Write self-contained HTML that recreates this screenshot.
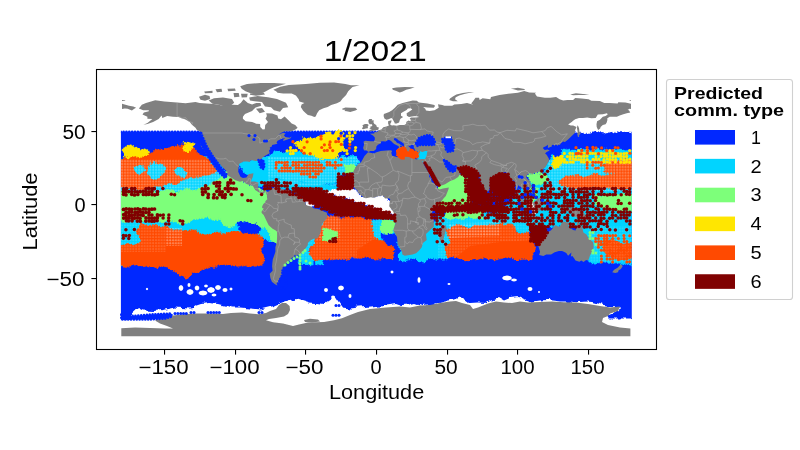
<!DOCTYPE html>
<html><head><meta charset="utf-8"><title>1/2021</title>
<style>
html,body{margin:0;padding:0;background:#fff;}
body{width:800px;height:450px;overflow:hidden;font-family:"Liberation Sans",sans-serif;}
svg{display:block}
</style></head><body>
<svg width="800" height="450" viewBox="0 0 800 450">
<rect width="800" height="450" fill="#fff"/>
<defs><clipPath id="ax"><rect x="97" y="70" width="559" height="279"/></clipPath></defs>
<g clip-path="url(#ax)">
<defs><pattern id="gr" x="121.955" y="131.500" width="2.8283" height="2.9320" patternUnits="userSpaceOnUse"><g fill="#fff" fill-opacity="0.95"><circle cx="0" cy="0" r="0.55"/><circle cx="2.8283" cy="0" r="0.55"/><circle cx="0" cy="2.9320" r="0.55"/><circle cx="2.8283" cy="2.9320" r="0.55"/></g><g stroke="#fff" stroke-opacity="0.24" stroke-width="0.7"><path d="M0,0H2.8283M0,0V2.9320"/></g></pattern><pattern id="gw" x="121.955" y="131.500" width="2.8283" height="2.9320" patternUnits="userSpaceOnUse"><g fill="#fff" fill-opacity="0.95"><circle cx="0" cy="0" r="0.42"/><circle cx="2.8283" cy="0" r="0.42"/><circle cx="0" cy="2.9320" r="0.42"/><circle cx="2.8283" cy="2.9320" r="0.42"/></g><g stroke="#fff" stroke-opacity="0.06" stroke-width="0.7"><path d="M0,0H2.8283M0,0V2.9320"/></g></pattern><filter id="rag" filterUnits="userSpaceOnUse" x="100" y="110" width="560" height="240"><feTurbulence type="fractalNoise" baseFrequency="0.11" numOctaves="2" seed="7" result="n"/><feDisplacementMap in="SourceGraphic" in2="n" scale="7" xChannelSelector="R" yChannelSelector="G"/></filter></defs>
<clipPath id="dc"><rect x="120.9" y="129" width="510.9" height="215"/></clipPath><g clip-path="url(#dc)">
<polygon points="115.0,131.8 638.0,131.8 638.0,319.0 115.0,319.0" fill="#0028ff" stroke="#0028ff" stroke-width="2.6" stroke-linecap="round" stroke-linejoin="round" stroke-dasharray="0.01 2.85"/>
<g filter="url(#rag)">
<polygon points="115.0,158.0 215.0,158.0 224.0,170.0 222.0,178.0 212.0,187.0 199.0,190.0 160.0,193.0 115.0,193.0" fill="#00d4ff" stroke="#00d4ff" stroke-width="2.6" stroke-linecap="round" stroke-linejoin="round" stroke-dasharray="0.01 2.85"/>
<polygon points="177.0,222.0 189.0,220.0 199.0,217.0 211.0,216.0 219.0,218.0 223.0,222.0 229.0,226.0 235.0,228.0 241.0,230.0 241.0,234.0 227.0,235.0 211.0,235.0 195.0,234.0 185.0,232.0 178.0,228.0" fill="#00d4ff" stroke="#00d4ff" stroke-width="2.6" stroke-linecap="round" stroke-linejoin="round" stroke-dasharray="0.01 2.85"/>
<polygon points="115.0,218.0 141.0,220.0 143.0,230.0 139.0,238.0 142.0,244.0 133.0,247.0 115.0,248.0" fill="#00d4ff" stroke="#00d4ff" stroke-width="2.6" stroke-linecap="round" stroke-linejoin="round" stroke-dasharray="0.01 2.85"/>
<polygon points="237.0,229.0 247.0,225.0 255.0,225.0 263.0,228.0 272.0,230.0 272.0,240.0 263.0,238.0 257.0,235.0 249.0,234.0 241.0,234.0" fill="#00d4ff" stroke="#00d4ff" stroke-width="2.6" stroke-linecap="round" stroke-linejoin="round" stroke-dasharray="0.01 2.85"/>
<polygon points="115.0,258.0 125.0,258.0 125.0,265.0 115.0,265.0" fill="#00d4ff" stroke="#00d4ff" stroke-width="2.6" stroke-linecap="round" stroke-linejoin="round" stroke-dasharray="0.01 2.85"/>
<polygon points="139.0,218.0 180.0,221.0 186.0,232.0 160.0,230.0 139.0,228.0" fill="#00d4ff" stroke="#00d4ff" stroke-width="2.6" stroke-linecap="round" stroke-linejoin="round" stroke-dasharray="0.01 2.85"/>
<polygon points="225.0,221.0 255.0,221.0 264.0,228.0 241.0,233.0 229.0,228.0" fill="#00d4ff" stroke="#00d4ff" stroke-width="2.6" stroke-linecap="round" stroke-linejoin="round" stroke-dasharray="0.01 2.85"/>
<polygon points="240.0,163.0 246.0,160.0 256.0,160.0 262.0,158.0 272.0,160.0 276.0,166.0 272.0,172.0 266.0,178.0 258.0,178.0 250.0,176.0 244.0,172.0" fill="#00d4ff" stroke="#00d4ff" stroke-width="2.6" stroke-linecap="round" stroke-linejoin="round" stroke-dasharray="0.01 2.85"/>
<polygon points="250.0,176.0 258.0,174.0 266.0,176.0 270.0,181.0 262.0,185.0 252.0,182.0" fill="#00d4ff" stroke="#00d4ff" stroke-width="2.6" stroke-linecap="round" stroke-linejoin="round" stroke-dasharray="0.01 2.85"/>
<polygon points="262.0,160.0 268.0,155.0 278.0,153.0 290.0,152.0 302.0,153.0 310.0,155.0 322.0,157.0 338.0,157.0 346.0,156.0 356.0,157.0 360.0,160.0 356.0,165.0 350.0,168.0 344.0,174.0 338.0,178.0 336.0,182.0 326.0,184.0 318.0,185.0 310.0,184.0 302.0,181.0 294.0,182.0 286.0,180.0 278.0,178.0 268.0,178.0 260.0,177.0 254.0,174.0 256.0,168.0 262.0,165.0" fill="#00d4ff" stroke="#00d4ff" stroke-width="2.6" stroke-linecap="round" stroke-linejoin="round" stroke-dasharray="0.01 2.85"/>
<polygon points="262.0,178.0 300.0,182.0 326.0,186.0 336.0,184.0 336.0,192.0 320.0,192.0 296.0,190.0 270.0,186.0" fill="#00d4ff" stroke="#00d4ff" stroke-width="2.6" stroke-linecap="round" stroke-linejoin="round" stroke-dasharray="0.01 2.85"/>
<polygon points="320.0,214.0 327.0,216.0 322.0,228.0 314.0,240.0 308.0,252.0 304.0,260.0 298.0,263.0 302.0,250.0 310.0,236.0 318.0,224.0" fill="#00d4ff" stroke="#00d4ff" stroke-width="2.6" stroke-linecap="round" stroke-linejoin="round" stroke-dasharray="0.01 2.85"/>
<polygon points="370.0,220.0 396.0,218.0 404.0,230.0 406.0,244.0 408.0,258.0 400.0,260.0 400.0,248.0 396.0,242.0 390.0,244.0 382.0,240.0 374.0,238.0 370.0,232.0 372.0,226.0" fill="#00d4ff" stroke="#00d4ff" stroke-width="2.6" stroke-linecap="round" stroke-linejoin="round" stroke-dasharray="0.01 2.85"/>
<polygon points="302.0,253.0 310.0,252.0 313.0,258.0 311.0,264.0 304.0,264.0 301.0,259.0" fill="#00d4ff" stroke="#00d4ff" stroke-width="2.6" stroke-linecap="round" stroke-linejoin="round" stroke-dasharray="0.01 2.85"/>
<polygon points="315.5,260.0 322.0,259.0 322.0,264.0 316.0,264.0" fill="#00d4ff" stroke="#00d4ff" stroke-width="2.6" stroke-linecap="round" stroke-linejoin="round" stroke-dasharray="0.01 2.85"/>
<polygon points="400.0,252.0 416.0,246.0 420.0,232.0 438.0,222.0 448.0,228.0 450.0,240.0 446.0,252.0 448.0,259.0 424.0,260.0 404.0,260.0" fill="#00d4ff" stroke="#00d4ff" stroke-width="2.6" stroke-linecap="round" stroke-linejoin="round" stroke-dasharray="0.01 2.85"/>
<polygon points="438.0,216.0 470.0,214.0 500.0,212.0 512.0,200.0 520.0,190.0 530.0,184.0 548.0,176.0 548.0,226.0 536.0,228.0 528.0,234.0 520.0,231.0 505.0,229.0 480.0,228.0 460.0,226.0 448.0,230.0 438.0,224.0" fill="#00d4ff" stroke="#00d4ff" stroke-width="2.6" stroke-linecap="round" stroke-linejoin="round" stroke-dasharray="0.01 2.85"/>
<polygon points="638.0,150.0 556.0,150.0 548.0,162.0 544.0,174.0 544.0,226.0 580.0,226.0 586.0,236.0 586.0,252.0 590.0,262.0 638.0,263.0" fill="#00d4ff" stroke="#00d4ff" stroke-width="2.6" stroke-linecap="round" stroke-linejoin="round" stroke-dasharray="0.01 2.85"/>
<polygon points="418.0,150.0 428.0,150.0 428.0,160.0 418.0,160.0" fill="#00d4ff" stroke="#00d4ff" stroke-width="2.6" stroke-linecap="round" stroke-linejoin="round" stroke-dasharray="0.01 2.85"/>
<polygon points="115.0,159.0 135.0,157.0 148.0,155.0 152.0,152.0 161.0,150.0 171.0,148.0 181.0,146.0 185.0,145.0 190.0,147.0 195.0,150.0 199.0,155.0 205.0,159.0 210.0,162.0 214.0,166.0 216.0,170.0 215.0,173.0 209.0,174.0 201.0,175.0 195.0,179.0 189.0,177.4 181.0,180.0 175.0,183.0 167.0,182.0 161.0,185.0 149.0,189.0 135.0,188.0 115.0,187.0" fill="#ff4a00" stroke="#ff4a00" stroke-width="2.6" stroke-linecap="round" stroke-linejoin="round" stroke-dasharray="0.01 2.85"/>
<polygon points="115.0,246.0 128.0,244.0 135.0,246.0 140.0,240.0 138.0,232.0 141.0,224.0 150.0,225.0 161.0,227.0 175.0,230.0 189.0,232.0 205.0,234.0 219.0,234.0 231.0,233.0 243.0,232.0 251.0,233.0 259.0,235.0 262.0,239.0 263.0,245.0 261.0,251.0 263.0,257.0 262.0,264.0 260.0,264.0 250.0,265.4 230.0,265.0 214.0,265.4 206.0,267.0 204.0,270.0 198.0,271.4 192.0,273.0 188.0,276.6 179.0,274.6 174.0,271.0 170.0,267.0 156.0,266.6 140.0,265.0 125.0,265.4 115.0,264.0" fill="#ff4a00" stroke="#ff4a00" stroke-width="2.6" stroke-linecap="round" stroke-linejoin="round" stroke-dasharray="0.01 2.85"/>
<polygon points="326.0,216.0 346.0,218.0 370.0,219.0 372.0,226.0 370.0,232.0 374.0,238.0 382.0,241.0 389.0,245.0 393.0,251.0 391.0,258.0 324.0,259.0 314.0,260.0 310.0,254.0 313.0,244.0 319.0,232.0 324.0,222.0" fill="#ff4a00" stroke="#ff4a00" stroke-width="2.6" stroke-linecap="round" stroke-linejoin="round" stroke-dasharray="0.01 2.85"/>
<polygon points="448.0,230.0 454.0,226.0 462.0,227.0 470.0,228.0 480.0,226.0 490.0,225.0 502.0,224.0 510.0,226.0 516.0,232.0 528.0,234.0 533.0,240.0 534.0,250.0 532.0,258.0 448.0,258.0 446.0,250.0 450.0,240.0" fill="#ff4a00" stroke="#ff4a00" stroke-width="2.6" stroke-linecap="round" stroke-linejoin="round" stroke-dasharray="0.01 2.85"/>
<polygon points="604.0,164.0 612.0,161.5 638.0,161.0 638.0,172.0 612.0,174.0 606.0,171.0" fill="#ff4a00" stroke="#ff4a00" stroke-width="2.6" stroke-linecap="round" stroke-linejoin="round" stroke-dasharray="0.01 2.85"/>
<polygon points="560.0,183.0 566.0,178.0 580.0,176.0 596.0,175.0 612.0,176.0 638.0,174.0 638.0,186.0 620.0,188.0 600.0,187.0 580.0,188.0 566.0,187.0" fill="#ff4a00" stroke="#ff4a00" stroke-width="2.6" stroke-linecap="round" stroke-linejoin="round" stroke-dasharray="0.01 2.85"/>
<polygon points="616.0,171.0 638.0,170.0 638.0,177.0 614.0,177.0" fill="#ff4a00" stroke="#ff4a00" stroke-width="2.6" stroke-linecap="round" stroke-linejoin="round" stroke-dasharray="0.01 2.85"/>
<polygon points="606.0,243.0 614.0,241.0 624.0,244.0 638.0,243.0 638.0,258.0 616.0,259.0 606.0,254.0 602.0,248.0" fill="#ff4a00" stroke="#ff4a00" stroke-width="2.6" stroke-linecap="round" stroke-linejoin="round" stroke-dasharray="0.01 2.85"/>
<polygon points="398.0,149.0 410.0,149.0 418.0,152.0 418.0,158.0 408.0,160.0 398.0,158.0" fill="#ff4a00" stroke="#ff4a00" stroke-width="2.6" stroke-linecap="round" stroke-linejoin="round" stroke-dasharray="0.01 2.85"/>
<polygon points="135.0,167.0 141.0,165.0 144.0,169.0 141.0,173.0 136.0,172.0" fill="#00d4ff" stroke="#00d4ff" stroke-width="2.6" stroke-linecap="round" stroke-linejoin="round" stroke-dasharray="0.01 2.85"/>
<polygon points="149.0,166.0 155.0,163.0 162.0,165.0 164.0,172.0 160.0,178.0 153.0,179.0 149.0,174.0" fill="#00d4ff" stroke="#00d4ff" stroke-width="2.6" stroke-linecap="round" stroke-linejoin="round" stroke-dasharray="0.01 2.85"/>
<polygon points="175.0,169.0 182.0,167.0 186.0,172.0 182.0,177.0 176.0,175.0" fill="#00d4ff" stroke="#00d4ff" stroke-width="2.6" stroke-linecap="round" stroke-linejoin="round" stroke-dasharray="0.01 2.85"/>
</g>
<path d="M115.0,187.0 L115.0,192.0 L173.0,192.0 L199.0,190.0 L212.0,187.0 L222.0,178.0 L222.0,170.0 L206.0,159.5 L115.0,159.5 L115.0,187.0Z M338.0,178.0 L344.0,174.0 L350.0,168.0 L356.0,165.0 L360.0,160.0 L356.0,157.0 L338.0,157.0 L322.0,157.0 L268.0,157.0 L268.0,178.0 L278.0,178.0 L286.0,180.0 L289.6,180.9 L268.1,178.6 L268.0,178.5 L268.0,184.0 L270.0,186.0 L326.0,186.0 L318.8,184.9 L326.0,184.0 L336.0,182.0 L338.0,178.0Z M300.0,182.0 L296.7,181.7 L302.0,181.0 L307.9,183.2 L300.0,182.0Z M336.0,184.0 L326.0,186.0 L336.0,186.0 L336.0,184.0Z M548.0,162.0 L548.0,192.0 L638.0,192.0 L638.0,186.0 L638.0,177.0 L638.0,174.0 L638.0,172.0 L638.0,170.0 L638.0,161.0 L638.0,159.0 L550.0,159.0 L548.0,162.0Z M327.0,216.1 L327.0,216.0 L320.0,214.0 L318.0,224.0 L310.0,236.0 L307.7,240.0 L314.0,240.0 L318.0,234.0 L315.0,240.0 L340.0,240.0 L340.0,217.4 L327.0,216.1Z M448.0,224.0 L448.0,238.0 L500.0,236.0 L500.0,222.0 L448.0,224.0Z M470.0,228.0 L462.0,227.0 L458.4,226.5 L460.0,226.0 L473.3,227.3 L470.0,228.0Z M166.0,228.0 L166.0,246.0 L182.0,246.0 L182.0,228.0 L166.0,228.0Z" fill="url(#gr)" fill-rule="evenodd"/>
<path d="M115.0,246.0 L115.0,248.0 L115.0,252.0 L166.0,252.0 L166.0,221.0 L115.0,221.0 L115.0,246.0Z M140.0,240.0 L139.0,238.0 L139.3,237.3 L140.0,240.0Z M438.0,216.0 L438.0,222.0 L438.0,258.0 L447.7,258.0 L446.0,252.0 L446.3,251.1 L448.0,258.0 L455.0,258.0 L470.0,246.0 L500.0,242.0 L533.0,240.3 L533.0,240.0 L528.0,234.0 L536.0,228.0 L540.0,227.3 L540.0,214.0 L470.0,214.0 L438.0,216.0Z M516.0,232.0 L514.2,230.2 L520.0,231.0 L528.0,234.0 L516.0,232.0Z M470.0,228.0 L462.0,227.0 L458.4,226.5 L460.0,226.0 L473.3,227.3 L470.0,228.0Z M370.3,220.0 L370.0,219.0 L346.0,218.0 L340.0,217.4 L340.0,240.0 L315.0,240.0 L313.0,244.0 L310.4,252.8 L310.0,252.0 L307.9,252.3 L308.0,252.0 L314.0,240.0 L307.7,240.0 L302.0,250.0 L300.0,256.5 L300.0,260.0 L312.3,260.0 L312.9,258.3 L314.0,260.0 L318.3,259.6 L315.5,260.0 L322.0,260.0 L322.0,259.2 L324.0,259.0 L357.0,258.5 L357.0,250.0 L372.0,240.0 L375.9,238.7 L374.0,238.0 L376.3,238.6 L396.0,232.0 L396.0,218.0 L370.3,220.0Z M638.0,263.0 L638.0,258.0 L638.0,243.0 L638.0,226.0 L590.0,226.0 L590.0,262.0 L638.0,263.0Z" fill="url(#gw)" fill-rule="evenodd"/>
<g filter="url(#rag)">
<polygon points="115.0,192.0 160.0,192.0 170.0,191.0 185.0,191.0 199.0,189.0 209.0,186.0 217.0,181.0 221.0,174.0 225.0,171.0 229.0,173.0 235.0,179.0 243.0,182.0 255.0,185.0 263.0,191.0 270.0,197.0 275.0,203.0 275.0,228.0 269.0,228.0 263.0,227.0 253.0,223.0 245.0,221.0 235.0,223.0 229.0,227.0 223.0,223.0 219.0,219.0 211.0,217.0 199.0,218.0 189.0,221.0 179.0,223.0 165.0,221.0 155.0,219.0 147.0,220.0 135.0,220.0 115.0,219.0" fill="#7dff7a" stroke="#7dff7a" stroke-width="2.6" stroke-linecap="round" stroke-linejoin="round" stroke-dasharray="0.01 2.85"/>
<polygon points="262.0,207.0 270.0,207.0 279.0,232.0 279.0,242.0 273.0,240.0 266.0,228.0 260.0,215.0" fill="#7dff7a" stroke="#7dff7a" stroke-width="2.6" stroke-linecap="round" stroke-linejoin="round" stroke-dasharray="0.01 2.85"/>
<polygon points="344.0,166.0 354.0,166.0 354.0,173.0 346.0,173.0" fill="#7dff7a" stroke="#7dff7a" stroke-width="2.6" stroke-linecap="round" stroke-linejoin="round" stroke-dasharray="0.01 2.85"/>
<polygon points="324.0,230.0 336.0,230.0 336.0,240.0 324.0,240.0" fill="#7dff7a" stroke="#7dff7a" stroke-width="2.6" stroke-linecap="round" stroke-linejoin="round" stroke-dasharray="0.01 2.85"/>
<polygon points="381.0,223.0 388.0,221.5 394.0,224.0 394.0,232.0 386.0,234.0 381.0,231.0" fill="#7dff7a" stroke="#7dff7a" stroke-width="2.6" stroke-linecap="round" stroke-linejoin="round" stroke-dasharray="0.01 2.85"/>
<polygon points="382.0,235.0 396.0,233.5 399.0,240.0 397.0,245.0 390.0,245.0 383.0,240.0" fill="#0028ff" stroke="#0028ff" stroke-width="2.6" stroke-linecap="round" stroke-linejoin="round" stroke-dasharray="0.01 2.85"/>
<polygon points="438.0,184.0 446.0,180.0 458.0,176.0 470.0,180.0 472.0,204.0 446.0,207.0 438.0,205.0" fill="#7dff7a" stroke="#7dff7a" stroke-width="2.6" stroke-linecap="round" stroke-linejoin="round" stroke-dasharray="0.01 2.85"/>
<polygon points="446.0,208.0 482.0,208.0 482.0,218.0 446.0,218.0" fill="#7dff7a" stroke="#7dff7a" stroke-width="2.6" stroke-linecap="round" stroke-linejoin="round" stroke-dasharray="0.01 2.85"/>
<polygon points="528.0,176.0 536.0,173.0 546.0,174.0 548.0,180.0 540.0,184.0 530.0,183.0" fill="#7dff7a" stroke="#7dff7a" stroke-width="2.6" stroke-linecap="round" stroke-linejoin="round" stroke-dasharray="0.01 2.85"/>
<polygon points="526.0,190.0 536.0,188.0 538.0,198.0 530.0,201.0 526.0,196.0" fill="#7dff7a" stroke="#7dff7a" stroke-width="2.6" stroke-linecap="round" stroke-linejoin="round" stroke-dasharray="0.01 2.85"/>
<polygon points="596.0,198.0 606.0,195.0 618.0,194.0 638.0,194.0 638.0,209.0 618.0,210.0 606.0,208.0 596.0,204.0" fill="#7dff7a" stroke="#7dff7a" stroke-width="2.6" stroke-linecap="round" stroke-linejoin="round" stroke-dasharray="0.01 2.85"/>
<polygon points="239.0,224.0 247.0,222.0 257.0,224.0 261.0,229.0 258.0,233.0 249.0,233.0 241.0,231.0" fill="#0028ff" stroke="#0028ff" stroke-width="2.6" stroke-linecap="round" stroke-linejoin="round" stroke-dasharray="0.01 2.85"/>
<polygon points="123.0,149.0 128.0,146.0 135.0,148.0 147.0,149.0 148.0,155.0 140.0,157.0 128.0,158.0 123.0,155.0" fill="#ffe600" stroke="#ffe600" stroke-width="2.6" stroke-linecap="round" stroke-linejoin="round" stroke-dasharray="0.01 2.85"/>
<polygon points="184.0,143.4 190.0,142.6 194.0,145.0 193.0,149.0 187.0,150.0 184.0,147.0" fill="#ffe600" stroke="#ffe600" stroke-width="2.6" stroke-linecap="round" stroke-linejoin="round" stroke-dasharray="0.01 2.85"/>
<polygon points="296.0,144.0 303.0,140.0 312.0,138.0 322.0,137.0 330.0,133.0 338.0,131.0 344.0,133.0 345.0,138.0 342.0,142.0 343.0,148.0 340.0,153.0 334.0,157.0 326.0,158.0 316.0,157.0 308.0,154.0 300.0,150.0" fill="#ffe600" stroke="#ffe600" stroke-width="2.6" stroke-linecap="round" stroke-linejoin="round" stroke-dasharray="0.01 2.85"/>
<polygon points="554.0,156.0 560.0,153.0 563.0,158.0 560.0,166.0 555.0,168.0 552.0,164.0" fill="#ffe600" stroke="#ffe600" stroke-width="2.6" stroke-linecap="round" stroke-linejoin="round" stroke-dasharray="0.01 2.85"/>
<polygon points="556.0,128.0 633.0,128.0 633.0,131.6 600.0,132.0 575.0,131.6 556.0,131.4" fill="#ffffff" stroke="#ffffff" stroke-width="2.6" stroke-linecap="round" stroke-linejoin="round" stroke-dasharray="0.01 2.85"/>
<polygon points="326.0,191.0 334.0,190.0 342.0,189.0 350.0,188.6 355.0,190.0 362.0,196.0 370.0,198.0 380.0,196.0 387.0,198.0 390.0,204.0 393.0,213.0 386.0,211.0 378.0,209.0 370.0,206.0 362.0,204.0 356.0,202.0 348.0,198.0 338.0,196.0 330.0,195.0 327.0,193.0" fill="#ffffff" stroke="#ffffff" stroke-width="2.6" stroke-linecap="round" stroke-linejoin="round" stroke-dasharray="0.01 2.85"/>
<polygon points="304.0,198.0 312.0,200.0 314.0,205.0 308.0,206.0" fill="#ffffff" stroke="#ffffff" stroke-width="2.6" stroke-linecap="round" stroke-linejoin="round" stroke-dasharray="0.01 2.85"/>
<polygon points="121.0,320.0 130.0,320.0 130.0,315.0 134.0,311.4 138.0,308.0 143.0,310.6 155.0,311.0 165.0,309.4 175.0,307.4 181.0,308.0 191.0,308.6 195.0,306.0 201.0,304.0 209.0,303.0 219.0,304.0 227.0,306.0 231.0,307.5 240.0,307.4 250.0,308.6 260.0,309.4 266.0,308.0 274.0,306.0 282.0,302.6 290.0,300.0 296.0,298.0 302.0,300.0 310.0,302.6 318.0,303.0 324.0,304.0 330.0,300.0 334.0,296.0 338.0,302.0 342.0,307.4 350.0,308.6 360.0,307.4 370.0,306.6 380.0,305.4 390.0,304.0 396.0,303.0 402.0,305.0 410.0,304.6 416.0,303.0 422.0,305.0 434.0,304.0 444.0,301.4 454.0,299.4 459.0,297.4 464.0,298.6 470.0,303.0 478.0,302.6 486.0,303.0 492.0,299.4 498.0,297.0 504.0,300.6 510.0,298.0 518.0,297.0 524.0,300.0 530.0,302.0 540.0,300.6 548.0,300.0 560.0,301.4 568.0,301.4 576.0,302.2 586.0,301.4 592.0,302.0 600.0,304.0 610.0,306.0 620.0,306.6 619.0,312.0 609.0,316.0 608.0,318.6 632.0,318.6 632.0,340.0 121.0,340.0" fill="#ffffff"/>
</g></g>
<g fill="#808080">
<polygon points="138.9,108.6 141.8,104.7 146.0,102.9 155.2,100.3 164.4,101.4 177.1,102.6 185.6,103.2 195.5,101.9 199.7,102.9 213.9,103.9 220.9,105.3 228.0,104.4 237.9,105.1 240.7,102.9 243.6,99.2 247.8,102.9 252.1,104.4 256.3,102.9 260.5,102.9 261.2,105.8 255.6,107.6 253.5,109.5 252.1,111.0 245.0,113.9 242.9,116.8 242.9,118.7 245.7,121.2 252.1,122.0 256.3,123.7 260.1,124.0 260.3,127.1 262.7,129.6 264.8,129.3 265.2,124.9 268.0,122.0 265.5,118.7 266.9,116.1 266.2,113.3 272.1,113.5 277.5,115.4 278.2,118.6 281.0,119.3 284.6,116.4 288.8,120.5 291.7,123.4 295.2,124.9 297.6,127.8 295.9,129.3 291.7,131.2 284.6,131.2 281.8,132.5 278.2,134.7 283.2,132.8 285.6,133.4 283.9,135.2 285.3,137.1 289.5,137.7 291.7,136.6 290.2,138.5 286.0,139.9 283.2,141.0 283.4,139.4 285.3,138.1 281.8,138.8 277.5,140.7 276.5,142.8 277.5,143.7 272.1,145.0 271.9,146.6 269.7,147.6 270.4,149.1 269.0,150.6 269.7,153.2 266.9,154.7 264.8,156.0 262.0,157.9 261.5,160.8 263.1,165.2 262.9,167.7 261.7,167.9 259.6,164.0 259.4,162.0 257.4,160.8 255.6,161.1 252.1,160.2 249.9,160.5 250.2,162.0 247.1,161.6 243.6,161.4 239.3,163.8 238.6,167.0 238.2,171.8 240.5,176.7 242.9,178.1 246.4,177.5 248.5,174.3 249.2,173.9 253.5,173.3 252.8,176.9 251.8,179.1 250.9,181.6 254.9,181.6 258.4,182.5 258.1,188.7 259.8,191.3 262.0,191.9 264.1,190.9 267.0,192.0 266.3,194.2 265.5,191.6 263.1,194.0 259.1,192.6 255.2,190.1 252.8,185.7 247.1,184.3 242.9,181.1 240.0,181.8 235.4,180.2 227.3,175.2 227.3,171.8 223.1,167.7 217.4,161.6 214.2,158.3 214.6,160.8 218.8,166.7 221.2,171.1 218.1,168.4 215.0,164.3 213.2,160.8 210.9,157.2 208.9,155.0 206.0,154.1 204.1,151.1 203.3,149.4 201.4,146.9 200.7,145.6 200.9,141.8 201.1,137.1 200.2,133.8 202.6,133.7 202.3,132.5 196.9,130.0 195.5,127.8 192.2,124.9 189.8,122.0 184.9,119.3 182.1,118.6 178.5,117.1 172.9,116.8 167.2,116.1 162.3,117.9 161.6,115.4 158.7,119.0 153.1,122.0 147.4,123.9 143.4,124.8 147.4,122.9 152.4,119.0 147.4,118.7 147.4,116.8 142.5,114.6 143.9,112.4 148.8,111.3 148.8,110.2 143.2,110.2" fill="#808080"/>
<polygon points="267.0,192.0 269.6,191.0 269.7,189.3 270.7,188.5 273.3,187.9 275.7,186.6 275.4,188.7 277.5,186.9 279.9,189.0 283.2,189.3 285.3,189.8 288.8,189.1 289.5,190.4 290.5,192.3 293.8,194.8 298.7,196.0 302.3,197.6 304.1,198.6 305.5,202.2 305.8,204.8 307.9,205.8 311.4,206.6 313.9,208.6 317.8,209.1 321.3,209.9 324.2,211.8 326.6,212.6 327.3,215.8 327.0,218.0 324.2,221.2 322.1,223.9 321.3,226.8 321.1,230.9 319.9,234.1 318.5,237.1 317.1,238.5 313.6,238.8 310.7,240.3 307.9,242.9 307.8,245.1 305.8,248.0 302.5,252.0 300.8,254.6 298.7,256.1 295.9,255.7 293.9,255.1 295.6,258.0 295.0,260.8 288.8,262.0 288.4,264.6 284.6,264.9 286.0,267.1 284.2,268.6 283.9,270.8 281.0,272.2 283.4,274.4 280.9,277.1 278.9,278.8 279.8,281.6 279.9,282.5 284.3,285.0 281.3,286.6 277.5,285.7 274.7,284.0 271.9,281.8 270.4,278.1 269.7,273.7 272.6,270.8 272.1,266.4 272.3,263.4 272.8,259.3 274.0,256.1 275.4,251.7 275.4,247.3 276.8,242.2 277.1,237.1 277.1,231.8 275.4,230.2 272.6,228.7 268.7,225.3 267.3,222.4 265.5,218.7 263.7,215.1 261.7,212.9 261.5,211.7 262.9,209.8 263.7,208.5 262.1,208.0 262.2,206.3 263.4,204.1 265.1,202.6 265.5,201.1 267.3,199.2 266.9,196.7 267.0,194.8 266.3,194.2" fill="#808080"/>
<polygon points="352.5,183.2 353.2,180.6 353.6,176.9 352.5,174.0 353.9,170.3 356.0,166.7 358.1,164.2 360.9,162.6 362.6,159.4 364.5,156.0 368.0,152.3 373.7,153.5 376.5,152.3 380.7,150.9 386.4,150.6 390.6,150.3 392.1,150.9 391.3,152.8 392.1,155.7 394.9,156.6 397.7,157.3 401.2,159.6 404.8,159.6 404.8,156.7 409.0,157.0 411.9,158.5 417.5,159.5 421.8,159.1 424.9,158.9 425.9,161.6 425.0,164.0 423.9,163.5 422.6,160.8 422.3,161.6 424.0,164.5 426.7,169.6 428.8,172.5 429.2,176.9 430.9,178.4 431.7,182.1 434.5,183.5 437.3,187.9 439.4,189.6 443.0,188.4 448.9,187.5 448.3,189.7 445.8,196.0 443.7,198.2 441.6,201.1 435.9,206.3 433.8,208.8 432.4,211.7 431.4,214.3 432.4,216.5 433.8,220.2 433.8,226.8 430.2,230.0 426.0,234.1 426.7,240.0 422.9,242.9 421.8,247.3 418.9,250.7 416.1,253.2 412.6,254.6 404.8,255.8 402.4,254.6 402.0,251.7 397.7,244.4 397.0,237.1 393.2,230.5 395.6,222.4 395.2,217.7 393.5,212.1 389.2,206.3 389.9,201.1 390.2,198.9 388.5,198.2 385.0,198.5 382.9,195.6 377.9,196.2 373.7,197.8 370.8,197.2 365.9,198.3 363.8,197.5 360.2,194.7 357.8,192.3 357.4,190.4 355.3,188.7 352.9,186.6" fill="#808080"/>
<polygon points="368.6,152.0 370.3,151.0 373.7,150.9 375.5,149.7 376.5,147.9 376.1,146.9 377.8,144.7 381.0,143.2 380.7,141.5 382.9,141.2 385.7,141.6 387.1,140.6 388.9,139.7 391.1,141.0 392.8,142.8 394.2,144.0 396.3,145.0 398.6,146.2 399.1,147.6 398.7,149.1 399.8,148.5 400.7,147.6 400.0,146.6 400.4,145.6 402.5,146.5 402.7,145.9 400.5,144.7 399.1,143.4 397.0,142.9 395.7,140.9 394.0,139.9 393.9,138.4 395.9,137.8 395.7,138.8 397.0,138.4 398.0,140.0 399.8,141.0 402.1,142.3 403.9,143.5 403.9,145.7 404.8,146.6 406.2,148.4 406.9,149.4 407.0,150.9 408.3,151.4 409.3,151.3 409.0,149.8 410.4,149.5 409.7,148.7 410.4,148.1 408.9,147.2 408.6,145.6 410.2,146.2 411.0,144.8 413.3,145.0 413.6,145.7 414.3,145.6 413.6,146.9 414.4,148.4 415.1,150.6 416.4,151.0 417.8,151.6 419.8,150.9 422.2,151.9 424.6,151.3 425.4,150.9 427.4,151.1 427.1,152.8 426.7,155.1 425.9,157.2 425.0,158.9 422.5,159.4 422.6,160.8 423.9,163.5 425.0,164.0 425.9,161.6 426.0,163.8 428.4,167.0 429.2,169.2 431.7,173.3 433.9,176.5 436.6,180.6 437.7,185.3 437.9,186.2 440.1,186.0 445.1,184.3 450.3,180.9 454.3,179.4 458.2,176.9 459.7,174.6 461.1,171.8 459.4,170.2 456.4,168.6 456.3,166.2 455.7,167.0 453.6,169.2 449.8,169.6 449.5,166.8 448.3,167.7 447.5,166.0 445.5,163.5 444.4,161.1 445.2,160.4 447.5,160.8 448.6,162.6 450.9,164.5 454.0,165.8 456.1,165.1 457.4,167.0 463.5,167.9 467.7,167.7 470.8,168.2 472.0,169.8 473.4,170.8 474.4,172.3 476.2,174.3 478.6,173.7 479.2,172.1 479.4,174.7 479.4,176.9 480.2,179.9 481.1,183.1 482.3,185.9 483.7,188.4 484.4,190.3 486.1,192.9 487.1,191.8 488.2,191.2 489.3,189.7 490.1,185.7 489.8,182.4 491.8,180.9 492.9,180.2 495.3,178.0 497.4,175.9 499.2,174.7 499.5,173.4 501.2,173.0 503.1,172.8 504.5,172.1 506.3,172.1 507.0,174.5 508.7,176.5 509.9,178.7 509.9,181.3 511.3,181.6 513.4,180.2 514.5,180.9 514.8,183.1 515.4,185.0 515.9,187.5 515.8,190.1 515.5,192.8 517.2,194.5 518.3,196.7 519.8,200.4 522.9,202.7 523.9,202.6 522.9,200.7 522.7,198.2 521.2,195.7 519.3,194.7 518.2,192.3 516.9,191.2 516.8,189.0 517.8,186.8 518.6,185.0 519.3,186.2 521.2,186.9 522.2,188.5 524.3,189.6 524.7,192.0 527.1,190.4 528.2,189.4 530.6,187.9 531.1,185.7 530.6,183.1 529.7,181.3 527.1,178.7 526.1,176.9 527.4,174.5 529.2,173.3 531.3,173.3 532.1,175.0 532.8,173.6 534.6,173.1 537.0,172.3 538.1,172.0 541.2,171.1 543.4,168.9 545.5,167.0 546.9,164.5 548.7,161.6 549.0,159.6 548.7,158.3 546.6,154.7 545.1,153.5 546.6,152.0 549.7,150.6 547.6,149.5 544.8,150.1 543.1,148.4 543.4,147.3 545.9,146.2 547.9,144.8 547.9,147.9 552.3,146.2 553.7,146.9 553.3,149.1 555.4,149.8 555.1,153.5 556.8,153.9 558.9,153.3 559.5,151.3 558.9,149.4 557.5,147.2 556.8,146.5 559.9,144.7 561.3,142.8 563.2,141.5 564.9,142.1 568.1,139.6 571.7,135.9 574.9,133.0 575.2,130.0 576.5,127.1 573.1,125.6 570.9,125.6 568.1,124.5 571.7,122.0 573.1,120.8 575.2,119.3 579.0,117.9 583.0,117.9 587.2,117.4 591.4,118.3 595.7,118.0 597.8,114.6 602.8,114.2 607.0,113.2 607.7,114.6 605.6,116.1 602.8,116.8 599.9,119.8 597.1,121.2 596.5,124.2 596.7,127.1 598.1,130.0 600.2,128.6 600.6,127.1 602.8,124.9 605.6,124.2 606.7,122.4 607.4,120.1 607.3,118.3 609.8,116.8 616.9,116.8 619.7,115.4 623.3,114.2 626.8,113.2 630.3,112.4 628.9,110.2 627.5,109.9 629.6,108.8 631.0,109.1 631.0,103.8 625.4,102.6 618.3,102.3 617.6,103.6 609.8,102.9 604.2,102.9 599.9,101.0 591.4,100.7 588.6,99.2 581.6,98.5 575.2,98.1 573.1,100.0 567.4,100.0 563.2,100.4 559.6,99.2 556.1,97.0 550.4,97.8 544.8,97.8 537.0,96.6 534.9,93.4 536.3,92.7 529.2,92.4 524.3,90.9 517.9,92.7 510.8,93.4 499.5,94.9 491.0,97.0 490.3,99.2 482.6,98.2 479.7,100.0 479.0,97.8 475.5,97.8 473.4,100.7 471.2,103.6 473.4,104.7 467.0,102.9 461.3,104.1 454.3,104.4 452.2,105.8 444.4,105.7 442.3,105.1 438.0,104.2 438.7,107.8 434.5,110.2 429.5,111.0 426.0,110.5 425.3,108.8 423.2,107.0 427.4,107.6 433.8,107.8 434.9,106.3 434.5,105.1 427.4,103.4 423.2,103.1 418.9,102.5 416.8,100.7 412.8,100.6 407.6,101.7 402.7,102.9 397.7,104.8 394.9,107.8 392.1,110.2 389.2,112.0 383.9,113.9 383.6,116.1 384.4,118.6 386.4,119.8 388.5,119.3 391.3,117.9 392.3,118.6 393.2,120.2 394.6,122.7 394.7,123.6 396.7,123.4 399.1,122.4 399.8,120.1 400.5,118.7 403.1,117.1 401.0,115.7 401.0,113.2 403.4,111.7 406.6,110.1 407.9,108.5 410.7,108.3 412.3,109.5 409.0,111.7 406.6,113.2 406.9,115.7 409.0,117.0 411.9,116.5 416.1,116.1 419.2,117.0 416.1,117.6 411.1,117.6 409.7,118.6 410.9,120.1 410.4,121.2 408.5,120.4 406.2,122.0 406.2,123.7 404.5,125.0 402.8,125.0 399.8,124.9 396.7,125.8 393.5,125.3 392.1,125.6 390.6,125.0 390.2,123.9 391.3,122.0 391.5,120.2 388.1,121.2 388.1,123.4 388.9,125.6 386.4,126.4 383.3,127.2 381.4,129.4 378.8,130.2 376.8,132.2 374.7,132.1 374.2,133.6 369.9,133.8 373.0,135.5 374.8,137.4 374.8,139.4 374.0,141.2 370.8,141.2 365.2,140.7 363.5,141.8 364.1,144.4 363.1,148.1 364.1,150.6 366.0,150.3 367.6,151.3" fill="#808080"/>
<polygon points="122.0,109.1 124.8,108.6 127.6,108.8 131.9,110.4 134.7,108.6 136.1,107.8 133.3,106.6 129.0,105.8 122.0,103.8" fill="#808080"/>
<polygon points="537.3,237.1 538.0,242.9 538.6,247.0 540.1,251.7 539.1,255.1 543.4,256.1 546.2,254.6 551.1,254.5 554.7,252.2 558.9,251.1 562.0,251.0 563.9,251.7 566.3,252.9 568.1,255.8 571.4,252.4 570.9,256.4 572.4,256.1 574.1,258.3 575.5,260.5 579.4,261.7 581.3,260.5 583.5,262.1 585.8,260.2 588.6,259.8 589.8,256.1 590.5,254.4 592.6,251.0 593.7,246.7 593.1,242.2 590.0,239.3 587.9,237.1 586.5,234.4 583.4,232.5 582.7,229.6 582.0,226.5 579.9,225.8 579.4,223.1 578.0,220.5 576.9,223.6 576.7,226.8 575.6,230.5 573.1,230.0 570.9,228.3 568.1,226.8 568.8,224.6 570.0,222.7 567.4,222.4 564.0,221.5 561.8,222.8 559.9,226.5 557.8,226.5 555.8,225.0 553.3,227.5 551.1,230.2 549.3,231.2 547.6,233.5 544.1,234.6 541.5,235.0 538.6,236.8" fill="#808080"/>
<polygon points="273.3,89.7 280.3,86.8 288.8,84.9 305.8,83.9 319.9,82.7 334.1,82.4 345.4,83.9 351.0,85.3 359.5,85.3 352.5,87.1 348.2,91.2 346.1,94.9 342.6,98.5 340.4,101.4 336.9,103.2 331.2,105.1 327.7,106.9 323.5,108.3 319.2,110.2 317.1,113.2 315.7,116.4 314.3,117.0 311.4,115.8 307.9,115.1 305.8,113.2 303.2,110.7 300.8,106.9 301.6,104.4 304.4,102.9 299.4,101.4 298.7,99.2 295.9,95.6 291.7,93.4 283.2,93.4 277.5,92.7 276.1,91.2" fill="#808080"/>
<polygon points="342.1,108.8 345.4,107.5 351.0,107.8 355.3,107.8 357.3,109.5 355.3,110.5 350.3,111.9 346.8,111.3 344.4,111.0 345.4,109.8 342.6,109.7" fill="#808080"/>
<polygon points="368.7,131.4 371.6,131.1 375.1,130.5 378.3,129.7 378.9,127.5 376.9,127.1 376.2,124.9 374.2,123.7 373.4,122.0 374.0,120.5 371.6,120.2 372.3,118.9 369.4,118.9 368.3,120.5 368.7,122.7 369.7,124.2 372.0,124.3 372.3,125.9 370.1,126.8 370.6,128.1 369.1,128.9 372.0,129.4 370.4,130.0" fill="#808080"/>
<polygon points="368.0,128.3 367.7,126.4 368.7,124.9 367.3,123.9 364.9,123.9 362.4,125.3 363.1,126.7 361.9,128.6 363.1,129.3 365.9,128.6" fill="#808080"/>
<polygon points="392.1,88.3 396.3,87.5 404.8,86.9 414.7,87.2 410.4,88.7 406.2,89.7 402.7,91.5 399.8,92.4 396.3,91.0 392.8,89.7" fill="#808080"/>
<polygon points="449.3,100.0 452.9,101.2 457.8,101.3 455.0,99.2 455.7,97.3 459.2,95.6 464.2,94.0 469.8,92.7 474.1,92.1 470.5,91.9 462.8,92.9 456.4,94.4 452.9,96.6 450.0,98.5" fill="#808080"/>
<polygon points="510.8,88.8 517.9,87.8 524.3,89.0 525.0,90.0 517.9,90.5 513.7,89.3" fill="#808080"/>
<polygon points="570.2,94.4 575.9,93.2 583.0,94.1 589.3,94.6 584.4,95.1 578.7,95.0 573.1,95.3" fill="#808080"/>
<polygon points="628.9,100.6 631.0,100.0 631.0,100.9" fill="#808080"/>
<polygon points="122.0,100.0 124.8,100.0 125.5,100.6 122.0,100.9" fill="#808080"/>
<polygon points="577.3,125.2 578.4,126.4 579.1,128.6 579.4,131.5 580.8,133.0 578.7,135.9 579.4,137.1 578.0,136.9 577.3,134.4 577.6,131.5 577.0,128.6" fill="#808080"/>
<polygon points="445.2,224.6 446.6,228.3 445.5,231.2 443.4,240.0 440.8,241.2 439.6,239.3 439.4,235.6 440.8,231.9 440.6,229.4 443.0,227.5" fill="#808080"/>
<polygon points="620.7,264.2 622.8,265.9 620.9,269.0 618.6,270.2 618.0,272.2 615.2,273.1 612.2,272.2 614.1,269.7 617.6,267.8 619.7,265.6" fill="#808080"/>
<polygon points="561.8,206.0 566.0,206.0 568.1,209.6 571.7,207.3 575.9,208.6 580.8,210.4 584.4,213.6 585.5,215.8 589.3,220.2 585.1,219.5 580.8,216.1 578.0,218.3 575.2,216.8 572.4,216.8 571.4,212.9 568.1,211.4 564.6,210.7 563.2,208.9" fill="#808080"/>
<polygon points="530.6,202.6 533.5,202.5 536.3,200.1 539.8,197.5 542.0,194.5 544.8,197.2 543.1,199.7 543.4,203.3 541.2,207.0 540.5,210.4 538.4,210.8 534.2,209.5 532.1,207.0 530.6,204.4" fill="#808080"/>
<polygon points="121.3,336.3 121.3,328.2 135.0,327.6 150.0,328.0 165.0,328.6 173.0,328.6 167.0,326.0 160.0,323.5 155.0,320.6 161.0,318.0 169.0,316.0 181.0,314.4 195.0,313.4 209.0,313.4 223.0,314.0 231.0,313.0 242.0,312.6 250.0,313.4 258.0,314.2 266.0,313.0 270.0,311.0 276.0,309.0 279.0,305.0 282.0,303.0 286.0,303.0 289.6,306.0 290.0,310.0 288.0,314.0 284.0,316.6 276.0,318.0 269.0,319.0 266.0,320.2 273.0,322.2 283.0,323.4 293.0,326.0 299.0,324.6 308.0,322.6 324.0,322.0 334.0,320.2 342.0,318.2 350.0,315.0 358.0,312.0 370.0,309.0 386.0,307.4 400.0,306.6 410.0,307.4 420.0,305.4 430.0,305.0 440.0,303.0 450.0,301.4 456.0,301.0 462.0,303.0 470.0,305.0 473.0,309.0 478.0,307.4 488.0,303.4 496.0,301.6 504.0,302.6 512.0,303.0 520.0,301.4 528.0,302.6 540.0,302.0 552.0,301.4 564.0,302.2 576.0,302.6 588.0,304.0 600.0,306.0 610.0,307.4 620.0,306.6 618.0,311.0 610.0,313.4 608.0,316.0 603.0,318.0 602.0,322.0 608.0,325.0 620.0,327.4 630.4,328.6 630.4,336.3" fill="#808080"/>
<polygon points="240.2,86.2 247.0,84.0 260.5,83.0 274.0,83.0 286.0,83.7 280.0,85.5 274.0,87.3 269.5,89.2 265.0,91.8 260.5,93.7 254.5,94.2 250.0,93.0 245.5,91.2 241.7,88.8" fill="#808080"/>
<polygon points="250.0,93.4 263.5,92.6 265.0,94.5 256.0,95.7 250.0,94.8" fill="#808080"/>
<polygon points="199.0,96.7 205.0,94.8 209.5,96.0 210.2,99.0 205.0,100.8 200.5,99.7" fill="#808080"/>
<polygon points="208.7,100.5 214.0,98.2 223.0,97.5 232.0,99.0 234.2,102.7 230.5,105.7 220.0,105.0 212.5,103.8" fill="#808080"/>
<polygon points="204.2,91.5 212.5,90.7 212.5,93.0 205.0,93.3" fill="#808080"/>
<polygon points="215.5,89.2 221.5,88.8 222.2,91.8 217.0,92.2" fill="#808080"/>
<polygon points="227.5,88.8 235.0,88.5 235.7,90.7 228.2,91.2" fill="#808080"/>
<polygon points="233.5,93.0 238.7,93.0 239.5,96.7 234.2,97.2" fill="#808080"/>
<polygon points="241.0,93.7 247.7,93.7 247.0,97.2 241.7,97.5" fill="#808080"/>
<polygon points="249.2,97.5 257.5,96.0 268.0,97.2 277.0,99.0 286.0,102.7 288.2,107.2 283.0,108.0 280.0,111.7 274.0,110.2 271.0,107.2 265.0,106.5 262.0,102.0 254.5,101.2 250.0,100.5" fill="#808080"/>
<polygon points="256.0,108.7 262.0,108.0 265.0,111.7 259.7,113.2" fill="#808080"/>
<polygon points="304.0,320.0 310.0,318.8 318.0,319.4 320.0,321.4 312.0,322.6 305.0,322.0" fill="#808080"/>
</g>
<g fill="none" stroke="#b2b2b2" stroke-width="0.45" stroke-linejoin="round">
<polyline points="177.1,102.6 177.1,116.4 179.9,116.8 182.1,118.3 185.6,117.6 188.4,121.2 192.7,122.7 192.2,124.5"/>
<polyline points="202.3,133.0 242.2,133.0 242.9,133.4 250.6,134.4 257.0,136.6 259.8,138.4 259.8,143.2 264.8,141.3 268.3,140.3 270.9,138.8 275.4,138.8 278.6,135.3 280.6,135.9 280.6,137.8 281.8,138.8"/>
<polyline points="210.9,157.2 214.2,157.2 219.5,158.9 223.5,158.9 225.9,158.2 228.7,161.3 231.3,161.3 233.1,161.1 235.8,164.5 238.9,166.8"/>
<polyline points="246.1,183.5 246.4,181.3 247.8,181.3 248.5,178.7 250.4,178.7 250.4,181.5 250.9,181.6"/>
<polyline points="250.4,181.5 250.2,183.7 252.3,185.2 253.8,184.6 256.3,183.2 258.8,182.8"/>
<polyline points="255.3,188.5 258.1,188.8"/>
<polyline points="259.3,192.9 259.7,190.9"/>
<polyline points="267.0,192.0 267.3,193.8"/>
<polyline points="275.7,186.6 274.0,188.7 274.0,191.6 274.7,194.5 277.5,194.5 281.0,195.7 281.3,201.9 281.9,203.0"/>
<polyline points="265.1,202.6 266.9,203.8 270.0,204.8 270.0,205.1 272.3,206.6 273.4,208.3 277.4,208.8 277.5,211.0 277.7,211.1 278.2,206.3 277.5,204.1 278.6,203.3 277.8,202.3 281.8,203.0 281.9,203.0"/>
<polyline points="290.5,192.3 289.7,196.2 290.7,197.2 291.7,198.2 289.5,198.6 286.0,198.9 285.6,201.1 286.8,201.6 281.9,203.0"/>
<polyline points="295.6,196.2 294.5,198.9 296.6,202.0 299.4,201.4 302.3,201.4 303.4,198.8"/>
<polyline points="291.7,198.2 292.4,202.2 295.6,202.0"/>
<polyline points="300.1,196.4 299.4,201.4"/>
<polyline points="262.9,209.8 264.5,212.1 265.2,211.4 270.0,205.1"/>
<polyline points="277.5,211.0 273.3,212.9 271.9,215.8 273.7,218.7 276.8,218.7 276.7,220.9 278.2,220.9 279.2,223.1 278.2,226.8 278.2,230.5 277.1,231.8"/>
<polyline points="278.2,220.9 284.2,219.2 284.2,222.0 288.8,224.3 291.2,225.0 291.7,228.5 294.2,228.7 294.5,233.8 293.1,233.1 289.1,233.7 288.0,237.3 284.6,237.1 281.8,238.2 280.3,236.3 279.6,233.4 278.2,230.5"/>
<polyline points="294.5,233.8 294.8,237.2 297.9,237.9 299.7,240.0 299.3,242.3 295.0,242.2 293.6,244.7 294.9,241.9 288.0,237.3"/>
<polyline points="299.3,242.3 300.6,244.2 297.6,246.3 295.0,249.1 294.2,253.2 293.9,254.6"/>
<polyline points="295.0,249.1 297.4,250.1 301.0,254.2"/>
<polyline points="281.8,238.2 279.8,240.7 279.6,244.4 277.8,248.8 277.1,253.6 276.8,257.6 276.1,262.0 275.1,266.4 275.4,270.8 274.3,275.2 273.3,278.8 274.7,281.0 279.8,281.5"/>
<polyline points="279.5,281.9 279.5,285.3"/>
<polyline points="358.1,164.2 364.2,164.2 364.2,162.3 369.4,160.8 371.4,158.5 374.8,157.6 374.0,154.2 373.4,153.3"/>
<polyline points="364.2,164.8 369.7,168.2 378.2,173.9 381.2,176.9 382.4,176.8 382.4,180.2 381.6,182.1 378.3,182.4 376.8,182.8 375.8,182.8 373.7,184.0 372.3,184.7 370.4,186.5 368.7,189.6 365.3,189.8 364.3,188.7 362.1,186.9 360.2,186.6 359.2,183.2 359.8,182.1 368.7,182.1 367.3,168.2 369.7,168.2"/>
<polyline points="352.5,174.0 358.1,173.6 358.1,171.1 359.5,170.5 359.5,166.7 364.2,166.7 364.2,164.8"/>
<polyline points="353.2,181.3 356.0,180.5 359.2,183.2"/>
<polyline points="352.9,186.6 357.1,186.3 360.2,186.6"/>
<polyline points="357.8,191.6 360.9,190.1 362.1,192.3 360.2,194.7"/>
<polyline points="362.1,192.3 364.5,193.7 365.9,198.3"/>
<polyline points="364.5,193.7 365.3,189.8"/>
<polyline points="372.5,197.3 372.7,190.9 368.7,189.6"/>
<polyline points="372.7,190.9 372.5,188.7 375.8,188.7 376.2,188.5 377.8,188.8 377.5,192.6 378.2,195.9"/>
<polyline points="377.8,188.8 379.9,187.4 381.6,187.6 381.6,190.1 380.3,193.1 380.3,195.4"/>
<polyline points="379.9,187.4 379.6,186.5 376.8,182.8"/>
<polyline points="381.6,187.6 382.2,185.0 386.4,185.7 389.9,186.0 394.2,185.4 395.7,184.7 397.0,185.9 396.6,186.5 397.1,187.9 395.6,190.1 394.7,192.0 393.2,194.5 391.3,194.7 390.4,195.3 388.9,196.3 388.5,197.9"/>
<polyline points="382.4,176.8 385.0,175.9 393.3,170.3 389.8,160.4 388.4,156.9 387.2,155.5 388.2,150.9"/>
<polyline points="393.3,170.3 396.6,171.7 397.7,171.1 410.4,176.2 410.4,175.5 411.9,175.5 411.9,158.5"/>
<polyline points="389.8,160.4 391.1,159.5 390.9,158.5 392.8,157.2 392.8,156.1"/>
<polyline points="397.7,171.1 399.1,174.7 398.4,180.2 395.6,183.2 395.7,184.7"/>
<polyline points="410.4,176.2 410.4,181.8 408.9,181.9 407.6,186.0 408.7,188.7 409.9,190.9 411.1,191.9 412.1,193.4 415.2,197.2"/>
<polyline points="397.0,185.9 398.4,190.1 396.3,190.4 398.4,193.8 397.0,196.7 399.1,201.6 395.3,201.6 392.5,201.6 392.5,203.3 390.4,203.3"/>
<polyline points="399.1,201.6 402.7,199.7 402.8,198.2 408.2,198.8 412.1,197.5 415.2,197.2"/>
<polyline points="398.4,193.8 402.7,192.8 403.4,191.6 407.2,189.3 408.7,188.7"/>
<polyline points="411.9,172.5 421.0,172.5 428.7,172.5"/>
<polyline points="428.7,172.5 431.1,178.4 428.1,183.8 427.6,186.2 426.0,187.4 424.6,190.9 424.6,192.3 423.2,193.4 425.6,195.0 426.4,196.9 424.6,198.6 420.3,199.4 420.1,199.7 415.2,197.2"/>
<polyline points="428.1,183.8 430.1,183.0 431.8,183.4 434.2,184.1 436.5,186.5 437.4,186.2"/>
<polyline points="436.5,186.5 435.6,188.7 437.3,187.9"/>
<polyline points="435.6,188.7 437.2,188.8 437.7,190.7 443.0,193.1 444.4,193.1 440.1,197.5 435.9,198.6 434.5,199.1 432.4,199.8 430.2,199.5 427.3,198.1 426.4,196.9"/>
<polyline points="434.5,199.1 434.5,206.0 435.3,207.3"/>
<polyline points="424.6,198.6 426.0,202.3 424.6,204.8 424.4,206.3 419.6,206.4 418.4,206.9 418.4,203.9 420.3,201.4 420.1,199.7"/>
<polyline points="424.4,206.3 429.7,209.2 430.0,210.2 431.9,211.7"/>
<polyline points="419.6,206.4 420.1,208.3 419.6,209.2 420.1,209.6 419.6,211.3 418.1,211.4 417.8,209.2 417.7,208.6 418.4,206.9"/>
<polyline points="418.1,211.4 418.4,214.8 420.1,217.0 417.4,217.3 416.7,218.3 417.1,220.5 415.1,222.4 418.6,222.7 418.6,224.4 417.5,224.4 416.7,222.2 410.4,220.8 410.4,223.9 407.6,223.9 407.6,221.2 407.6,218.7 405.5,215.1 400.5,215.5 400.0,213.4 394.9,213.4 393.8,213.3"/>
<polyline points="394.9,213.4 396.3,211.3 399.4,211.7 399.4,209.2 401.4,205.5 402.7,199.7"/>
<polyline points="395.3,201.6 397.0,205.5 396.9,207.7 393.2,209.9 392.3,210.7"/>
<polyline points="392.5,203.3 390.4,203.3"/>
<polyline points="420.1,217.0 423.0,218.6 425.0,219.0 425.4,221.7 429.5,222.0 433.6,220.2"/>
<polyline points="423.0,218.6 423.6,220.6 423.6,223.1 422.7,224.7 423.4,225.3 419.2,226.5 419.5,227.7 422.9,229.3 423.2,232.7 422.7,234.9 420.8,237.6 421.8,240.7 421.8,244.1 423.0,244.2"/>
<polyline points="425.0,219.0 425.4,226.1 427.1,228.3 426.3,229.9 425.1,228.3 423.4,225.3"/>
<polyline points="419.5,227.7 417.4,228.3 414.7,231.0 412.3,230.9 409.6,230.6 407.6,228.5 407.6,223.9"/>
<polyline points="412.3,230.9 413.6,233.4 415.7,234.9 418.1,237.3 420.8,237.6"/>
<polyline points="393.2,230.2 396.3,230.3 402.5,230.3 406.2,231.0 409.6,230.6"/>
<polyline points="406.2,231.0 406.2,237.1 404.8,237.1 404.8,241.2 404.8,246.4 401.1,246.9 399.8,246.7"/>
<polyline points="404.8,241.2 407.2,244.1 409.0,241.9 412.7,242.5 414.5,239.5 418.1,237.3"/>
<polyline points="364.1,143.4 367.2,143.4 366.7,147.6 366.0,150.3"/>
<polyline points="374.0,141.2 377.5,142.2 381.0,142.6"/>
<polyline points="380.0,129.9 382.4,131.5 385.0,132.2 388.1,133.0 387.2,135.0 385.1,137.1 386.4,137.5 386.4,140.0 387.1,140.6"/>
<polyline points="385.0,132.2 385.3,130.8 385.0,128.9 386.7,126.7"/>
<polyline points="382.4,129.4 385.0,128.9"/>
<polyline points="387.2,135.0 390.1,135.2 391.3,135.2 394.9,135.2 394.9,133.7 396.3,133.4 393.8,131.1 396.7,130.0 397.4,130.0 396.6,125.8"/>
<polyline points="386.4,137.5 389.2,137.4 391.3,136.0 393.8,135.9 395.9,136.6 395.9,137.8"/>
<polyline points="395.9,136.6 399.3,136.2 400.5,134.4 400.4,133.6 396.3,133.4"/>
<polyline points="397.4,130.0 400.4,130.9 403.1,132.2 408.3,132.8 408.9,133.0 410.4,130.8 409.9,129.3 409.7,125.8 408.7,125.0 404.5,125.0"/>
<polyline points="400.4,133.6 403.1,132.2"/>
<polyline points="400.5,134.4 403.1,134.7 407.8,133.8 408.9,133.0"/>
<polyline points="399.3,136.2 399.8,136.6 403.1,137.5 405.2,137.1 408.6,134.6 407.8,133.8"/>
<polyline points="408.6,134.6 411.7,134.9 414.1,134.0 416.4,136.6 416.4,138.1 418.5,138.5"/>
<polyline points="405.2,137.1 406.9,138.8 408.3,139.6 408.6,140.4 411.9,140.7 414.7,140.1 416.9,140.7"/>
<polyline points="408.3,139.6 408.2,142.8 408.9,144.3 413.3,144.3 413.7,143.7 416.1,143.2"/>
<polyline points="413.7,143.7 413.3,145.0"/>
<polyline points="403.1,137.5 403.4,139.0 403.9,141.0 402.7,142.5"/>
<polyline points="403.9,141.0 405.2,142.1 408.2,142.8"/>
<polyline points="405.2,142.1 403.9,143.4"/>
<polyline points="405.6,144.7 406.2,146.2 404.8,146.6"/>
<polyline points="405.6,144.7 408.9,144.3"/>
<polyline points="406.2,122.7 408.7,125.0"/>
<polyline points="409.7,125.8 412.6,125.2 414.1,123.1 416.4,122.4 415.2,120.5 416.1,117.6"/>
<polyline points="406.2,122.6 411.7,122.1 414.1,123.1"/>
<polyline points="410.9,120.1 415.2,120.5"/>
<polyline points="416.4,122.4 420.2,123.3 421.5,128.4 419.8,129.6 409.9,129.3"/>
<polyline points="419.8,129.6 425.1,128.9 426.8,130.9 430.2,131.6 433.2,132.1 432.6,134.7 430.5,135.8"/>
<polyline points="416.1,117.6 416.0,116.1"/>
<polyline points="416.0,116.1 418.9,112.4 418.8,106.7 416.8,104.8 417.4,103.6"/>
<polyline points="410.7,108.3 409.9,105.3 405.6,103.5 412.8,103.4 417.4,103.6 420.1,102.9"/>
<polyline points="392.3,118.5 393.9,115.4 393.8,111.7 397.0,107.9 400.3,105.1 405.6,103.5"/>
<polyline points="413.7,143.7 416.1,143.2"/>
<polyline points="427.4,151.1 428.4,150.9 431.2,151.0 436.5,150.4 439.9,150.3 439.0,147.0 438.3,146.0 438.0,144.5 435.2,144.0"/>
<polyline points="435.2,144.0 438.0,144.5 440.1,144.3 442.3,143.4 445.2,143.5"/>
<polyline points="433.1,141.2 438.4,142.3 442.3,143.4"/>
<polyline points="439.9,150.3 441.6,152.3 440.7,155.0 441.7,156.4 444.0,159.4 445.2,160.8"/>
<polyline points="439.9,146.6 442.3,147.8 444.4,146.7 445.7,148.5"/>
<polyline points="427.0,156.9 431.4,155.8 434.5,154.4 436.5,150.4"/>
<polyline points="431.4,155.8 431.9,157.6 433.6,158.0 439.7,162.0 442.4,162.1 444.0,160.8"/>
<polyline points="426.0,161.7 427.4,162.0 429.5,160.8 430.2,160.1 428.8,158.6 431.9,157.6"/>
<polyline points="425.0,158.9 425.9,161.6"/>
<polyline points="426.8,156.1 426.1,156.3"/>
<polyline points="444.0,162.3 444.9,163.0"/>
<polyline points="449.5,169.2 455.3,171.5 454.6,175.5 450.0,176.9 445.8,177.5 442.1,182.1 437.6,179.3 437.0,180.8"/>
<polyline points="450.0,176.9 451.6,180.5"/>
<polyline points="455.3,171.5 455.7,169.5 456.3,168.3"/>
<polyline points="445.2,143.5 443.7,141.8"/>
<polyline points="442.5,139.4 443.0,134.4 444.9,131.5 448.6,129.0 454.3,130.6 460.8,130.8 463.2,130.0 462.8,125.8 468.7,125.2 472.9,124.2 477.2,125.5 480.4,125.6 485.1,125.2 489.6,130.2 494.4,130.0 497.0,132.1 500.0,132.7"/>
<polyline points="500.0,132.7 500.9,133.6 505.0,138.5 511.4,140.0 512.7,142.2 520.5,142.5 525.0,143.8 532.6,142.1 534.6,140.7 534.7,138.7 540.1,137.8 545.8,136.3 542.5,132.1 541.5,131.6"/>
<polyline points="500.0,132.7 506.9,130.3 515.4,130.9 516.4,128.6 520.9,129.6 527.8,131.2 533.0,132.8 541.5,131.6 545.2,130.6 547.2,127.8 551.1,126.4 556.9,131.8 561.6,134.9 567.4,133.8 562.2,140.1 561.2,142.6"/>
<polyline points="500.0,132.7 497.7,135.2 494.2,135.5 493.2,138.1 490.1,138.8 489.8,143.1 487.5,143.8 485.2,144.5 480.7,147.0 482.4,150.3"/>
<polyline points="451.4,143.1 454.8,144.3 455.7,138.8 459.2,138.0 462.9,139.7 470.0,141.8 472.7,144.7 476.8,142.8 480.4,142.5 482.6,141.9 489.8,143.1"/>
<polyline points="452.7,150.3 457.1,148.8 461.9,151.1 463.0,152.6 462.1,155.4 463.9,158.8 462.6,161.1 465.6,161.6 464.9,166.0 463.5,167.9"/>
<polyline points="463.0,152.6 467.7,151.6 472.4,150.3 477.6,150.9 482.4,150.3"/>
<polyline points="462.6,161.1 470.4,161.0 474.5,158.0 477.0,154.5 477.6,150.9"/>
<polyline points="482.4,150.3 486.5,152.8 488.1,154.5 488.2,157.2 491.2,160.5 495.1,161.8 501.1,163.9 502.1,164.8 506.6,165.4 506.2,164.0 511.4,162.3 514.2,163.3 516.1,164.5 516.1,166.8 514.7,169.5 517.2,171.2 519.6,173.4 521.0,171.8 525.4,170.6 527.4,171.4 529.2,173.3"/>
<polyline points="472.9,170.1 476.9,169.0 474.8,165.2 479.4,162.4 481.7,159.4 481.7,156.7 486.5,152.8"/>
<polyline points="491.2,160.5 489.8,162.6 494.3,164.6 501.1,166.1 501.1,163.9"/>
<polyline points="502.1,164.8 503.3,165.7 506.6,165.4"/>
<polyline points="501.1,166.1 502.2,167.9 501.1,168.9 502.4,172.5"/>
<polyline points="507.0,174.5 507.2,173.3 505.5,170.3 507.3,168.3 503.5,167.7 503.3,166.4 502.2,167.9"/>
<polyline points="507.2,173.3 508.4,169.5 510.3,167.9 514.1,163.9"/>
<polyline points="514.7,169.5 516.8,175.3 518.1,174.9 519.6,173.4"/>
<polyline points="516.8,175.3 514.8,177.5 516.4,180.8 515.4,182.7 516.8,185.3 516.8,188.7 515.9,190.1"/>
<polyline points="518.1,174.9 519.6,176.2 519.3,179.1 520.9,178.3 524.6,179.3 525.8,181.9 525.3,183.8 521.6,184.0 521.2,185.2 522.0,187.6"/>
<polyline points="519.6,173.4 521.0,171.8"/>
<polyline points="524.6,179.3 528.7,184.0 528.5,186.8 526.1,187.8 524.1,189.6"/>
<polyline points="525.3,183.8 528.5,183.2"/>
<polyline points="518.1,195.3 519.5,196.4 520.7,195.7"/>
<polyline points="552.3,146.2 556.0,143.5 557.8,144.0 559.9,142.6 561.2,142.6"/>
<polyline points="554.7,149.4 558.1,148.2"/>
<polyline points="531.5,201.9 533.8,203.3 538.6,202.7 539.3,200.5 539.8,198.5 543.2,198.8"/>
<polyline points="575.9,208.6 575.9,218.1"/>
</g>
<polygon points="416.0,143.0 419.0,138.0 424.0,136.0 429.0,135.0 433.0,137.4 435.0,142.0 434.0,145.0 427.0,145.0 420.0,145.0 417.0,146.0" fill="#0028ff" stroke="#0028ff" stroke-width="2.6" stroke-linecap="round" stroke-linejoin="round" stroke-dasharray="0.01 2.85"/>
<polygon points="442.4,139.0 446.0,137.6 451.0,137.6 452.0,142.0 454.0,145.0 453.0,151.0 448.0,152.0 445.6,149.0 445.0,144.0 442.4,142.0" fill="#0028ff" stroke="#0028ff" stroke-width="2.6" stroke-linecap="round" stroke-linejoin="round" stroke-dasharray="0.01 2.85"/>
<polygon points="444.0,160.0 448.0,162.0 452.0,166.0 456.0,169.0 454.0,172.0 450.0,171.0 446.0,166.0" fill="#0028ff" stroke="#0028ff" stroke-width="2.6" stroke-linecap="round" stroke-linejoin="round" stroke-dasharray="0.01 2.85"/>
<polygon points="201.0,133.0 204.0,140.0 207.0,147.0 212.0,155.0 217.0,162.0 222.0,169.0 227.0,175.0 225.0,178.0 219.0,172.0 214.0,165.0 209.0,158.0 204.0,150.0 200.0,142.0 198.0,134.0" fill="#0028ff" stroke="#0028ff" stroke-width="2.6" stroke-linecap="round" stroke-linejoin="round" stroke-dasharray="0.01 2.85"/>
<polygon points="258.5,160.0 263.0,160.0 264.5,165.0 263.5,169.0 261.0,168.0 259.5,164.0" fill="#0028ff" stroke="#0028ff" stroke-width="2.6" stroke-linecap="round" stroke-linejoin="round" stroke-dasharray="0.01 2.85"/>
<polygon points="293.0,258.5 298.0,256.0 296.0,262.0 290.0,268.0 286.0,275.0 286.0,288.0 277.5,288.0 277.5,284.5 280.5,279.0 282.5,274.0 282.5,269.5 286.5,264.5" fill="#0028ff" stroke="#0028ff" stroke-width="2.6" stroke-linecap="round" stroke-linejoin="round" stroke-dasharray="0.01 2.85"/>
<polygon points="553.0,146.0 559.0,146.0 561.0,150.0 560.0,155.0 555.0,156.0 553.0,151.0" fill="#0028ff" stroke="#0028ff" stroke-width="2.6" stroke-linecap="round" stroke-linejoin="round" stroke-dasharray="0.01 2.85"/>
<polygon points="296.0,189.0 304.0,189.5 312.0,190.0 320.0,190.0 328.0,195.0 340.0,199.0 352.0,203.0 366.0,207.0 380.0,211.0 394.0,216.0 394.0,219.0 380.0,218.0 366.0,216.0 352.0,214.0 344.0,215.0 334.0,211.0 326.0,208.0 318.0,205.0 310.0,201.0 304.0,197.0 298.0,193.0" fill="#800000" stroke="#800000" stroke-width="2.6" stroke-linecap="round" stroke-linejoin="round" stroke-dasharray="0.01 2.85"/>
<polygon points="339.0,177.0 352.0,176.0 353.0,188.0 340.0,189.0" fill="#800000" stroke="#800000" stroke-width="2.6" stroke-linecap="round" stroke-linejoin="round" stroke-dasharray="0.01 2.85"/>
<polygon points="468.0,181.0 472.0,177.0 477.0,178.0 481.0,184.0 485.0,191.0 487.0,197.0 485.0,202.0 478.0,203.0 472.0,199.0 468.0,193.0 467.0,186.0" fill="#800000" stroke="#800000" stroke-width="2.6" stroke-linecap="round" stroke-linejoin="round" stroke-dasharray="0.01 2.85"/>
<polygon points="491.0,178.0 498.0,174.0 508.0,176.0 513.0,183.0 513.0,192.0 507.0,196.0 499.0,195.0 492.0,190.0" fill="#800000" stroke="#800000" stroke-width="2.6" stroke-linecap="round" stroke-linejoin="round" stroke-dasharray="0.01 2.85"/>
<polygon points="530.0,226.0 546.0,226.0 546.0,237.0 539.0,244.0 532.0,240.0" fill="#800000" stroke="#800000" stroke-width="2.6" stroke-linecap="round" stroke-linejoin="round" stroke-dasharray="0.01 2.85"/>
<polygon points="436.0,208.0 470.0,205.0 508.0,207.0 508.0,212.0 470.0,211.0 436.0,212.0" fill="#800000" stroke="#800000" stroke-width="2.6" stroke-linecap="round" stroke-linejoin="round" stroke-dasharray="0.01 2.85"/>
<polygon points="527.0,201.0 531.0,200.0 533.0,204.0 535.0,210.0 536.0,214.0 532.0,214.0 529.0,209.0 527.0,205.0" fill="#ffffff"/>
<polygon points="516.0,211.0 521.0,211.0 521.0,214.0 516.0,214.0" fill="#ffffff"/>
<polygon points="183.4,288.0 182.7,290.1 181.0,291.0 179.3,290.1 178.6,288.0 179.3,285.9 181.0,285.0 182.7,285.9" fill="#ffffff"/>
<polygon points="193.6,292.0 192.5,294.1 190.0,295.0 187.5,294.1 186.4,292.0 187.5,289.9 190.0,289.0 192.5,289.9" fill="#ffffff"/>
<polygon points="199.4,288.0 198.7,289.7 197.0,290.4 195.3,289.7 194.6,288.0 195.3,286.3 197.0,285.6 198.7,286.3" fill="#ffffff"/>
<polygon points="207.5,293.0 206.2,294.8 203.0,295.6 199.8,294.8 198.5,293.0 199.8,291.2 203.0,290.4 206.2,291.2" fill="#ffffff"/>
<polygon points="215.0,290.0 213.8,292.1 211.0,293.0 208.2,292.1 207.0,290.0 208.2,287.9 211.0,287.0 213.8,287.9" fill="#ffffff"/>
<polygon points="221.0,287.5 220.1,289.2 218.0,289.9 215.9,289.2 215.0,287.5 215.9,285.8 218.0,285.1 220.1,285.8" fill="#ffffff"/>
<polygon points="227.6,290.0 226.8,291.4 225.0,292.0 223.2,291.4 222.4,290.0 223.2,288.6 225.0,288.0 226.8,288.6" fill="#ffffff"/>
<polygon points="208.0,286.0 207.4,287.1 206.0,287.6 204.6,287.1 204.0,286.0 204.6,284.9 206.0,284.4 207.4,284.9" fill="#ffffff"/>
<polygon points="216.5,295.0 215.8,296.1 214.0,296.5 212.2,296.1 211.5,295.0 212.2,293.9 214.0,293.5 215.8,293.9" fill="#ffffff"/>
<polygon points="148.2,289.0 147.8,289.8 147.0,290.2 146.2,289.8 145.8,289.0 146.2,288.2 147.0,287.8 147.8,288.2" fill="#ffffff"/>
<polygon points="232.5,289.0 232.1,290.1 231.0,290.5 229.9,290.1 229.5,289.0 229.9,287.9 231.0,287.5 232.1,287.9" fill="#ffffff"/>
<polygon points="190.5,285.0 190.1,286.4 189.0,287.0 187.9,286.4 187.5,285.0 187.9,283.6 189.0,283.0 190.1,283.6" fill="#ffffff"/>
<polygon points="328.0,290.0 327.4,291.4 326.0,292.0 324.6,291.4 324.0,290.0 324.6,288.6 326.0,288.0 327.4,288.6" fill="#ffffff"/>
<polygon points="344.0,288.0 343.1,289.8 341.0,290.5 338.9,289.8 338.0,288.0 338.9,286.2 341.0,285.5 343.1,286.2" fill="#ffffff"/>
<polygon points="335.0,297.0 334.4,298.1 333.0,298.5 331.6,298.1 331.0,297.0 331.6,295.9 333.0,295.5 334.4,295.9" fill="#ffffff"/>
<polygon points="351.5,296.0 351.1,297.4 350.0,298.0 348.9,297.4 348.5,296.0 348.9,294.6 350.0,294.0 351.1,294.6" fill="#ffffff"/>
<polygon points="332.0,304.0 331.1,305.1 329.0,305.5 326.9,305.1 326.0,304.0 326.9,302.9 329.0,302.5 331.1,302.9" fill="#ffffff"/>
<polygon points="393.5,272.0 393.1,273.1 392.0,273.5 390.9,273.1 390.5,272.0 390.9,270.9 392.0,270.5 393.1,270.9" fill="#ffffff"/>
<polygon points="420.5,280.0 420.1,282.1 419.0,283.0 417.9,282.1 417.5,280.0 417.9,277.9 419.0,277.0 420.1,277.9" fill="#ffffff"/>
<polygon points="450.5,284.0 450.1,284.7 449.0,285.0 447.9,284.7 447.5,284.0 447.9,283.3 449.0,283.0 450.1,283.3" fill="#ffffff"/>
<polygon points="512.0,278.0 510.5,279.8 507.0,280.5 503.5,279.8 502.0,278.0 503.5,276.2 507.0,275.5 510.5,276.2" fill="#ffffff"/>
<polygon points="517.0,280.0 516.1,281.1 514.0,281.5 511.9,281.1 511.0,280.0 511.9,278.9 514.0,278.5 516.1,278.9" fill="#ffffff"/>
<polygon points="532.5,289.0 531.8,290.4 530.0,291.0 528.2,290.4 527.5,289.0 528.2,287.6 530.0,287.0 531.8,287.6" fill="#ffffff"/>
<polygon points="540.0,292.0 539.7,292.7 539.0,293.0 538.3,292.7 538.0,292.0 538.3,291.3 539.0,291.0 539.7,291.3" fill="#ffffff"/>
<polygon points="458.0,168.0 466.0,166.0 476.0,170.0 480.0,176.0 470.0,178.0 462.0,175.0" fill="#800000" stroke="#800000" stroke-width="2.6" stroke-linecap="round" stroke-linejoin="round" stroke-dasharray="0.01 2.85"/>
<polygon points="121.3,314.5 130.0,316.0 140.0,315.5 150.0,314.5 160.0,314.0 171.0,313.5 172.0,316.5 165.0,318.6 150.0,319.4 121.3,319.4" fill="#0028ff" stroke="#0028ff" stroke-width="2.6" stroke-linecap="round" stroke-linejoin="round" stroke-dasharray="0.01 2.85"/>
<polygon points="445.5,136.4 451.0,136.4 451.0,138.2 445.5,138.2" fill="#ffffff"/>
<g fill="#800000"><circle cx="425.0" cy="163.0" r="1.7"/><circle cx="426.1" cy="164.9" r="1.7"/><circle cx="427.1" cy="166.8" r="1.7"/><circle cx="428.2" cy="168.8" r="1.7"/><circle cx="429.2" cy="170.7" r="1.7"/><circle cx="430.3" cy="172.6" r="1.7"/><circle cx="431.4" cy="174.5" r="1.7"/><circle cx="432.4" cy="176.4" r="1.7"/><circle cx="433.5" cy="178.4" r="1.7"/><circle cx="434.5" cy="180.3" r="1.7"/><circle cx="435.6" cy="182.2" r="1.7"/><circle cx="436.7" cy="184.1" r="1.7"/><circle cx="429.4" cy="168.0" r="1.7"/><circle cx="430.5" cy="170.0" r="1.7"/><circle cx="431.5" cy="171.9" r="1.7"/><circle cx="432.6" cy="173.8" r="1.7"/><circle cx="433.7" cy="175.7" r="1.7"/><circle cx="434.7" cy="177.6" r="1.7"/><circle cx="435.8" cy="179.6" r="1.7"/><circle cx="436.8" cy="181.5" r="1.7"/><circle cx="437.9" cy="183.4" r="1.7"/><circle cx="439.0" cy="185.3" r="1.7"/></g>
<g fill="#800000"><circle cx="123.6" cy="188.9" r="1.85"/><circle cx="123.4" cy="191.6" r="1.85"/><circle cx="123.6" cy="194.3" r="1.85"/><circle cx="126.4" cy="188.6" r="1.85"/><circle cx="125.8" cy="191.6" r="1.85"/><circle cx="126.0" cy="194.8" r="1.85"/><circle cx="128.7" cy="191.6" r="1.85"/><circle cx="131.7" cy="188.6" r="1.85"/><circle cx="131.7" cy="191.6" r="1.85"/><circle cx="131.7" cy="194.3" r="1.85"/><circle cx="134.7" cy="188.5" r="1.85"/><circle cx="134.9" cy="191.6" r="1.85"/><circle cx="134.5" cy="194.9" r="1.85"/><circle cx="137.4" cy="191.8" r="1.85"/><circle cx="137.8" cy="194.5" r="1.85"/><circle cx="140.2" cy="191.7" r="1.85"/><circle cx="143.2" cy="191.3" r="1.85"/><circle cx="143.4" cy="194.5" r="1.85"/><circle cx="146.0" cy="188.8" r="1.85"/><circle cx="145.9" cy="191.6" r="1.85"/><circle cx="146.2" cy="194.6" r="1.85"/><circle cx="148.8" cy="188.3" r="1.85"/><circle cx="149.0" cy="191.9" r="1.85"/><circle cx="148.7" cy="194.3" r="1.85"/><circle cx="152.0" cy="188.9" r="1.85"/><circle cx="151.9" cy="191.4" r="1.85"/><circle cx="152.0" cy="194.6" r="1.85"/><circle cx="154.3" cy="188.7" r="1.85"/><circle cx="154.7" cy="194.8" r="1.85"/><circle cx="157.5" cy="191.6" r="1.85"/><circle cx="157.3" cy="194.2" r="1.85"/></g>
<g fill="#800000"><circle cx="162.9" cy="188.6" r="1.75"/><circle cx="171.3" cy="194.3" r="1.75"/><circle cx="174.6" cy="194.7" r="1.75"/></g>
<g fill="#800000"><circle cx="202.2" cy="188.9" r="1.85"/><circle cx="202.4" cy="192.0" r="1.85"/><circle cx="202.8" cy="194.5" r="1.85"/><circle cx="205.6" cy="185.8" r="1.85"/><circle cx="205.1" cy="188.9" r="1.85"/><circle cx="205.5" cy="191.9" r="1.85"/><circle cx="208.0" cy="188.5" r="1.85"/><circle cx="208.3" cy="194.4" r="1.85"/><circle cx="208.1" cy="197.4" r="1.85"/><circle cx="214.1" cy="183.1" r="1.85"/><circle cx="214.1" cy="194.6" r="1.85"/><circle cx="213.6" cy="197.7" r="1.85"/><circle cx="216.9" cy="182.7" r="1.85"/><circle cx="216.6" cy="185.9" r="1.85"/><circle cx="216.8" cy="191.3" r="1.85"/><circle cx="217.0" cy="197.8" r="1.85"/><circle cx="219.6" cy="182.5" r="1.85"/><circle cx="219.5" cy="185.8" r="1.85"/><circle cx="219.2" cy="188.9" r="1.85"/><circle cx="219.9" cy="191.9" r="1.85"/><circle cx="219.5" cy="194.6" r="1.85"/><circle cx="222.3" cy="191.8" r="1.85"/><circle cx="222.2" cy="194.9" r="1.85"/><circle cx="222.4" cy="197.1" r="1.85"/><circle cx="225.3" cy="188.7" r="1.85"/><circle cx="225.3" cy="194.7" r="1.85"/><circle cx="224.9" cy="197.6" r="1.85"/><circle cx="228.0" cy="182.9" r="1.85"/><circle cx="227.9" cy="185.6" r="1.85"/><circle cx="228.1" cy="188.5" r="1.85"/><circle cx="228.2" cy="191.3" r="1.85"/><circle cx="230.6" cy="180.1" r="1.85"/><circle cx="230.6" cy="182.8" r="1.85"/><circle cx="230.7" cy="188.6" r="1.85"/><circle cx="231.1" cy="194.3" r="1.85"/><circle cx="233.5" cy="183.0" r="1.85"/><circle cx="233.5" cy="188.9" r="1.85"/><circle cx="236.2" cy="189.0" r="1.85"/></g>
<g fill="#800000"><circle cx="242.0" cy="194.8" r="1.75"/><circle cx="247.9" cy="200.5" r="1.75"/><circle cx="250.9" cy="200.7" r="1.75"/><circle cx="261.6" cy="194.6" r="1.75"/></g>
<g fill="#800000"><circle cx="123.5" cy="209.4" r="1.85"/><circle cx="123.7" cy="214.7" r="1.85"/><circle cx="123.7" cy="218.1" r="1.85"/><circle cx="126.2" cy="208.9" r="1.85"/><circle cx="126.0" cy="212.4" r="1.85"/><circle cx="126.0" cy="215.3" r="1.85"/><circle cx="126.3" cy="217.7" r="1.85"/><circle cx="126.5" cy="220.7" r="1.85"/><circle cx="129.3" cy="209.2" r="1.85"/><circle cx="128.8" cy="212.4" r="1.85"/><circle cx="129.4" cy="215.3" r="1.85"/><circle cx="128.9" cy="217.8" r="1.85"/><circle cx="128.7" cy="220.8" r="1.85"/><circle cx="131.7" cy="209.4" r="1.85"/><circle cx="131.7" cy="212.1" r="1.85"/><circle cx="131.5" cy="215.4" r="1.85"/><circle cx="132.0" cy="218.2" r="1.85"/><circle cx="132.1" cy="220.8" r="1.85"/><circle cx="135.0" cy="209.0" r="1.85"/><circle cx="135.0" cy="212.4" r="1.85"/><circle cx="134.6" cy="215.1" r="1.85"/><circle cx="134.4" cy="218.2" r="1.85"/><circle cx="137.8" cy="208.9" r="1.85"/><circle cx="137.6" cy="212.4" r="1.85"/><circle cx="137.8" cy="215.1" r="1.85"/><circle cx="137.4" cy="217.8" r="1.85"/><circle cx="137.3" cy="221.1" r="1.85"/><circle cx="140.0" cy="209.5" r="1.85"/><circle cx="140.3" cy="211.9" r="1.85"/><circle cx="140.6" cy="215.0" r="1.85"/><circle cx="140.0" cy="218.3" r="1.85"/><circle cx="140.3" cy="221.2" r="1.85"/><circle cx="143.4" cy="208.9" r="1.85"/><circle cx="142.9" cy="212.4" r="1.85"/><circle cx="143.1" cy="215.4" r="1.85"/><circle cx="145.8" cy="209.1" r="1.85"/><circle cx="145.9" cy="212.5" r="1.85"/><circle cx="146.0" cy="217.9" r="1.85"/><circle cx="145.8" cy="221.1" r="1.85"/><circle cx="149.0" cy="209.4" r="1.85"/><circle cx="148.9" cy="212.3" r="1.85"/><circle cx="149.0" cy="214.9" r="1.85"/><circle cx="149.0" cy="218.1" r="1.85"/><circle cx="149.1" cy="221.0" r="1.85"/><circle cx="151.8" cy="209.2" r="1.85"/><circle cx="151.9" cy="215.0" r="1.85"/><circle cx="151.8" cy="218.2" r="1.85"/><circle cx="151.9" cy="221.2" r="1.85"/><circle cx="154.5" cy="209.0" r="1.85"/><circle cx="154.6" cy="218.1" r="1.85"/><circle cx="154.3" cy="221.1" r="1.85"/><circle cx="157.4" cy="214.9" r="1.85"/><circle cx="157.4" cy="217.7" r="1.85"/><circle cx="157.1" cy="220.6" r="1.85"/></g>
<g fill="#800000"><circle cx="160.3" cy="215.2" r="1.75"/><circle cx="163.3" cy="215.1" r="1.75"/><circle cx="163.1" cy="217.9" r="1.75"/><circle cx="165.7" cy="223.9" r="1.75"/><circle cx="168.9" cy="215.1" r="1.75"/><circle cx="168.7" cy="217.9" r="1.75"/><circle cx="168.6" cy="220.7" r="1.75"/><circle cx="168.9" cy="224.0" r="1.75"/><circle cx="180.1" cy="220.8" r="1.75"/><circle cx="182.7" cy="221.2" r="1.75"/><circle cx="182.7" cy="224.1" r="1.75"/></g>
<g fill="#800000"><circle cx="123.4" cy="235.5" r="1.75"/><circle cx="123.4" cy="238.2" r="1.75"/><circle cx="125.9" cy="229.7" r="1.75"/><circle cx="126.0" cy="235.7" r="1.75"/><circle cx="129.3" cy="235.4" r="1.75"/><circle cx="128.8" cy="238.4" r="1.75"/><circle cx="134.4" cy="229.5" r="1.75"/></g>
<g fill="#800000"><circle cx="261.7" cy="182.6" r="1.75"/><circle cx="264.6" cy="183.1" r="1.75"/><circle cx="264.9" cy="186.0" r="1.75"/><circle cx="264.7" cy="188.9" r="1.75"/><circle cx="267.9" cy="182.8" r="1.75"/><circle cx="267.4" cy="185.6" r="1.75"/><circle cx="267.5" cy="188.5" r="1.75"/><circle cx="270.6" cy="182.7" r="1.75"/><circle cx="270.4" cy="185.6" r="1.75"/><circle cx="270.4" cy="188.6" r="1.75"/><circle cx="273.0" cy="182.7" r="1.75"/><circle cx="273.4" cy="185.6" r="1.75"/><circle cx="276.4" cy="179.8" r="1.75"/><circle cx="276.2" cy="182.8" r="1.75"/><circle cx="275.9" cy="185.5" r="1.75"/><circle cx="276.1" cy="188.4" r="1.75"/><circle cx="278.6" cy="182.7" r="1.75"/><circle cx="278.6" cy="186.1" r="1.75"/><circle cx="278.9" cy="188.8" r="1.75"/><circle cx="278.7" cy="191.6" r="1.75"/><circle cx="281.6" cy="185.8" r="1.75"/><circle cx="282.1" cy="191.9" r="1.75"/><circle cx="284.4" cy="182.7" r="1.75"/><circle cx="284.8" cy="185.9" r="1.75"/><circle cx="284.8" cy="191.7" r="1.75"/><circle cx="287.1" cy="183.0" r="1.75"/><circle cx="287.3" cy="186.0" r="1.75"/><circle cx="287.3" cy="188.9" r="1.75"/><circle cx="287.3" cy="191.9" r="1.75"/><circle cx="290.3" cy="183.0" r="1.75"/><circle cx="290.0" cy="191.7" r="1.75"/><circle cx="289.9" cy="194.5" r="1.75"/><circle cx="293.2" cy="188.6" r="1.75"/><circle cx="293.3" cy="191.8" r="1.75"/><circle cx="292.9" cy="194.4" r="1.75"/><circle cx="296.1" cy="185.5" r="1.75"/><circle cx="295.7" cy="188.4" r="1.75"/><circle cx="295.6" cy="191.3" r="1.75"/><circle cx="296.1" cy="194.8" r="1.75"/><circle cx="298.6" cy="191.5" r="1.75"/><circle cx="298.9" cy="194.2" r="1.75"/><circle cx="298.8" cy="197.5" r="1.75"/></g>
<g fill="#800000"><circle cx="296.1" cy="188.8" r="1.75"/><circle cx="298.4" cy="188.5" r="1.75"/><circle cx="298.4" cy="191.4" r="1.75"/><circle cx="298.6" cy="194.6" r="1.75"/><circle cx="301.6" cy="188.5" r="1.75"/><circle cx="301.8" cy="191.5" r="1.75"/><circle cx="301.9" cy="194.5" r="1.75"/><circle cx="301.2" cy="197.2" r="1.75"/><circle cx="304.5" cy="188.8" r="1.75"/><circle cx="304.6" cy="191.6" r="1.75"/><circle cx="304.4" cy="194.2" r="1.75"/><circle cx="304.0" cy="197.8" r="1.75"/><circle cx="304.6" cy="200.3" r="1.75"/><circle cx="307.1" cy="188.7" r="1.75"/><circle cx="307.0" cy="191.3" r="1.75"/><circle cx="307.0" cy="194.8" r="1.75"/><circle cx="306.9" cy="197.3" r="1.75"/><circle cx="307.0" cy="200.1" r="1.75"/><circle cx="310.3" cy="188.6" r="1.75"/><circle cx="310.1" cy="191.3" r="1.75"/><circle cx="310.4" cy="197.8" r="1.75"/><circle cx="309.8" cy="200.4" r="1.75"/><circle cx="310.0" cy="203.0" r="1.75"/><circle cx="312.9" cy="188.9" r="1.75"/><circle cx="313.2" cy="191.3" r="1.75"/><circle cx="312.9" cy="194.7" r="1.75"/><circle cx="312.6" cy="197.7" r="1.75"/><circle cx="312.9" cy="200.5" r="1.75"/><circle cx="312.9" cy="203.3" r="1.75"/><circle cx="316.0" cy="188.6" r="1.75"/><circle cx="315.9" cy="191.7" r="1.75"/><circle cx="316.0" cy="194.6" r="1.75"/><circle cx="315.9" cy="197.3" r="1.75"/><circle cx="316.0" cy="200.1" r="1.75"/><circle cx="315.4" cy="203.4" r="1.75"/><circle cx="315.8" cy="206.4" r="1.75"/><circle cx="318.8" cy="188.7" r="1.75"/><circle cx="318.6" cy="191.4" r="1.75"/><circle cx="318.4" cy="194.8" r="1.75"/><circle cx="318.8" cy="197.7" r="1.75"/><circle cx="318.3" cy="200.1" r="1.75"/><circle cx="318.8" cy="203.3" r="1.75"/><circle cx="318.3" cy="206.6" r="1.75"/><circle cx="321.2" cy="188.9" r="1.75"/><circle cx="321.0" cy="191.4" r="1.75"/><circle cx="321.6" cy="194.9" r="1.75"/><circle cx="321.4" cy="197.4" r="1.75"/><circle cx="321.7" cy="203.1" r="1.75"/><circle cx="321.7" cy="209.0" r="1.75"/><circle cx="324.1" cy="191.5" r="1.75"/><circle cx="324.3" cy="194.4" r="1.75"/><circle cx="324.1" cy="197.4" r="1.75"/><circle cx="323.9" cy="200.3" r="1.75"/><circle cx="324.5" cy="206.3" r="1.75"/><circle cx="324.2" cy="208.8" r="1.75"/><circle cx="326.8" cy="191.3" r="1.75"/><circle cx="327.0" cy="194.8" r="1.75"/><circle cx="326.9" cy="197.6" r="1.75"/><circle cx="327.1" cy="200.4" r="1.75"/><circle cx="327.1" cy="203.0" r="1.75"/><circle cx="327.2" cy="206.0" r="1.75"/><circle cx="326.8" cy="209.5" r="1.75"/><circle cx="329.7" cy="194.6" r="1.75"/><circle cx="329.8" cy="197.6" r="1.75"/><circle cx="329.5" cy="200.3" r="1.75"/><circle cx="329.7" cy="203.4" r="1.75"/><circle cx="329.6" cy="206.4" r="1.75"/><circle cx="329.5" cy="209.1" r="1.75"/><circle cx="329.8" cy="211.9" r="1.75"/><circle cx="332.3" cy="194.4" r="1.75"/><circle cx="332.6" cy="197.2" r="1.75"/><circle cx="332.4" cy="200.5" r="1.75"/><circle cx="332.6" cy="203.4" r="1.75"/><circle cx="332.8" cy="206.0" r="1.75"/><circle cx="332.3" cy="209.1" r="1.75"/><circle cx="332.5" cy="212.3" r="1.75"/><circle cx="335.7" cy="197.2" r="1.75"/><circle cx="335.7" cy="200.1" r="1.75"/><circle cx="335.8" cy="203.1" r="1.75"/><circle cx="335.4" cy="206.4" r="1.75"/><circle cx="335.6" cy="211.8" r="1.75"/><circle cx="335.6" cy="214.8" r="1.75"/><circle cx="338.5" cy="197.8" r="1.75"/><circle cx="338.5" cy="200.4" r="1.75"/><circle cx="338.3" cy="203.5" r="1.75"/><circle cx="338.6" cy="206.5" r="1.75"/><circle cx="338.6" cy="209.0" r="1.75"/><circle cx="338.4" cy="212.0" r="1.75"/><circle cx="338.6" cy="214.8" r="1.75"/><circle cx="341.0" cy="197.5" r="1.75"/><circle cx="341.2" cy="200.3" r="1.75"/><circle cx="341.0" cy="203.5" r="1.75"/><circle cx="341.0" cy="206.0" r="1.75"/><circle cx="340.9" cy="209.2" r="1.75"/><circle cx="340.9" cy="211.9" r="1.75"/><circle cx="341.3" cy="215.4" r="1.75"/><circle cx="344.0" cy="197.4" r="1.75"/><circle cx="343.7" cy="200.7" r="1.75"/><circle cx="344.2" cy="203.3" r="1.75"/><circle cx="344.1" cy="206.0" r="1.75"/><circle cx="344.0" cy="209.1" r="1.75"/><circle cx="344.2" cy="215.1" r="1.75"/><circle cx="346.9" cy="200.3" r="1.75"/><circle cx="346.9" cy="203.5" r="1.75"/><circle cx="346.9" cy="206.6" r="1.75"/><circle cx="346.9" cy="209.3" r="1.75"/><circle cx="346.8" cy="215.2" r="1.75"/><circle cx="349.7" cy="200.7" r="1.75"/><circle cx="349.5" cy="205.9" r="1.75"/><circle cx="349.6" cy="209.3" r="1.75"/><circle cx="349.4" cy="212.2" r="1.75"/><circle cx="349.6" cy="214.8" r="1.75"/><circle cx="352.6" cy="200.5" r="1.75"/><circle cx="352.3" cy="203.4" r="1.75"/><circle cx="352.6" cy="208.9" r="1.75"/><circle cx="352.3" cy="214.8" r="1.75"/><circle cx="355.6" cy="203.6" r="1.75"/><circle cx="355.5" cy="206.2" r="1.75"/><circle cx="355.5" cy="212.0" r="1.75"/><circle cx="355.3" cy="215.4" r="1.75"/><circle cx="358.4" cy="203.6" r="1.75"/><circle cx="358.1" cy="206.2" r="1.75"/><circle cx="358.1" cy="209.3" r="1.75"/><circle cx="358.1" cy="212.5" r="1.75"/><circle cx="358.3" cy="215.2" r="1.75"/><circle cx="360.8" cy="203.2" r="1.75"/><circle cx="361.0" cy="206.3" r="1.75"/><circle cx="360.7" cy="208.9" r="1.75"/><circle cx="361.0" cy="211.9" r="1.75"/><circle cx="360.7" cy="215.0" r="1.75"/><circle cx="363.8" cy="203.5" r="1.75"/><circle cx="363.5" cy="206.3" r="1.75"/><circle cx="364.1" cy="209.0" r="1.75"/><circle cx="363.8" cy="212.0" r="1.75"/><circle cx="363.9" cy="215.2" r="1.75"/><circle cx="366.9" cy="209.5" r="1.75"/><circle cx="366.9" cy="212.5" r="1.75"/><circle cx="366.5" cy="215.3" r="1.75"/><circle cx="366.6" cy="218.0" r="1.75"/><circle cx="369.2" cy="206.2" r="1.75"/><circle cx="369.6" cy="209.5" r="1.75"/><circle cx="369.6" cy="211.9" r="1.75"/><circle cx="369.1" cy="215.1" r="1.75"/><circle cx="369.7" cy="217.7" r="1.75"/><circle cx="372.1" cy="206.5" r="1.75"/><circle cx="372.0" cy="209.5" r="1.75"/><circle cx="372.5" cy="211.9" r="1.75"/><circle cx="372.1" cy="214.8" r="1.75"/><circle cx="371.9" cy="217.7" r="1.75"/><circle cx="375.2" cy="208.9" r="1.75"/><circle cx="375.2" cy="212.2" r="1.75"/><circle cx="375.4" cy="215.1" r="1.75"/><circle cx="375.2" cy="217.7" r="1.75"/><circle cx="377.8" cy="209.3" r="1.75"/><circle cx="378.2" cy="212.3" r="1.75"/><circle cx="377.8" cy="218.0" r="1.75"/><circle cx="380.5" cy="209.3" r="1.75"/><circle cx="380.9" cy="211.9" r="1.75"/><circle cx="380.6" cy="215.0" r="1.75"/><circle cx="380.9" cy="218.0" r="1.75"/><circle cx="383.6" cy="212.4" r="1.75"/><circle cx="383.3" cy="215.3" r="1.75"/><circle cx="383.2" cy="218.3" r="1.75"/><circle cx="386.2" cy="211.9" r="1.75"/><circle cx="386.6" cy="215.2" r="1.75"/><circle cx="386.6" cy="218.0" r="1.75"/><circle cx="389.2" cy="212.3" r="1.75"/><circle cx="389.1" cy="215.0" r="1.75"/><circle cx="388.9" cy="217.7" r="1.75"/><circle cx="392.0" cy="218.2" r="1.75"/><circle cx="394.8" cy="215.0" r="1.75"/><circle cx="394.7" cy="218.0" r="1.75"/><circle cx="395.1" cy="220.9" r="1.75"/></g>
<g fill="#800000"><circle cx="338.6" cy="174.1" r="1.75"/><circle cx="338.2" cy="177.1" r="1.75"/><circle cx="338.2" cy="180.0" r="1.75"/><circle cx="338.3" cy="182.5" r="1.75"/><circle cx="338.1" cy="185.6" r="1.75"/><circle cx="338.1" cy="188.9" r="1.75"/><circle cx="340.8" cy="176.9" r="1.75"/><circle cx="341.2" cy="182.5" r="1.75"/><circle cx="341.4" cy="185.5" r="1.75"/><circle cx="340.9" cy="188.7" r="1.75"/><circle cx="343.7" cy="174.0" r="1.75"/><circle cx="343.9" cy="180.0" r="1.75"/><circle cx="344.0" cy="182.6" r="1.75"/><circle cx="344.3" cy="185.4" r="1.75"/><circle cx="344.0" cy="188.4" r="1.75"/><circle cx="347.1" cy="174.4" r="1.75"/><circle cx="346.9" cy="177.3" r="1.75"/><circle cx="346.9" cy="179.6" r="1.75"/><circle cx="346.9" cy="182.9" r="1.75"/><circle cx="346.5" cy="185.6" r="1.75"/><circle cx="346.9" cy="188.6" r="1.75"/><circle cx="350.0" cy="174.1" r="1.75"/><circle cx="349.8" cy="176.8" r="1.75"/><circle cx="349.4" cy="179.8" r="1.75"/><circle cx="349.3" cy="182.9" r="1.75"/><circle cx="349.8" cy="185.4" r="1.75"/><circle cx="349.8" cy="188.7" r="1.75"/><circle cx="352.3" cy="174.2" r="1.75"/><circle cx="352.3" cy="177.3" r="1.75"/><circle cx="352.4" cy="180.1" r="1.75"/><circle cx="352.6" cy="182.6" r="1.75"/><circle cx="352.3" cy="185.4" r="1.75"/></g>
<g fill="#800000"><circle cx="329.8" cy="241.3" r="1.75"/><circle cx="333.0" cy="238.9" r="1.75"/><circle cx="332.9" cy="241.5" r="1.75"/><circle cx="335.3" cy="238.6" r="1.75"/><circle cx="335.6" cy="241.6" r="1.75"/></g>
<g fill="#800000"><circle cx="465.6" cy="177.0" r="1.75"/><circle cx="465.6" cy="180.0" r="1.75"/><circle cx="465.3" cy="182.7" r="1.75"/><circle cx="465.8" cy="185.9" r="1.75"/><circle cx="465.9" cy="189.0" r="1.75"/><circle cx="465.7" cy="191.4" r="1.75"/><circle cx="468.6" cy="179.7" r="1.75"/><circle cx="468.3" cy="182.5" r="1.75"/><circle cx="468.3" cy="186.0" r="1.75"/><circle cx="468.7" cy="188.9" r="1.75"/><circle cx="468.2" cy="191.9" r="1.75"/><circle cx="468.8" cy="194.5" r="1.75"/><circle cx="468.5" cy="197.7" r="1.75"/><circle cx="471.0" cy="177.1" r="1.75"/><circle cx="471.3" cy="179.6" r="1.75"/><circle cx="471.0" cy="182.6" r="1.75"/><circle cx="471.1" cy="188.9" r="1.75"/><circle cx="471.2" cy="191.9" r="1.75"/><circle cx="471.0" cy="194.9" r="1.75"/><circle cx="471.1" cy="197.7" r="1.75"/><circle cx="471.1" cy="200.1" r="1.75"/><circle cx="473.9" cy="176.7" r="1.75"/><circle cx="474.3" cy="179.7" r="1.75"/><circle cx="474.2" cy="183.1" r="1.75"/><circle cx="474.4" cy="186.0" r="1.75"/><circle cx="474.0" cy="188.4" r="1.75"/><circle cx="474.4" cy="191.4" r="1.75"/><circle cx="473.9" cy="194.8" r="1.75"/><circle cx="473.9" cy="197.2" r="1.75"/><circle cx="473.8" cy="200.2" r="1.75"/><circle cx="474.3" cy="203.4" r="1.75"/><circle cx="476.7" cy="176.9" r="1.75"/><circle cx="476.6" cy="179.8" r="1.75"/><circle cx="477.2" cy="182.9" r="1.75"/><circle cx="477.0" cy="185.5" r="1.75"/><circle cx="476.6" cy="189.0" r="1.75"/><circle cx="477.2" cy="191.3" r="1.75"/><circle cx="476.9" cy="194.7" r="1.75"/><circle cx="477.3" cy="197.2" r="1.75"/><circle cx="477.1" cy="200.7" r="1.75"/><circle cx="477.0" cy="203.5" r="1.75"/><circle cx="479.6" cy="179.9" r="1.75"/><circle cx="479.4" cy="182.9" r="1.75"/><circle cx="479.9" cy="188.6" r="1.75"/><circle cx="479.8" cy="191.6" r="1.75"/><circle cx="479.4" cy="194.7" r="1.75"/><circle cx="479.8" cy="197.5" r="1.75"/><circle cx="479.9" cy="200.4" r="1.75"/><circle cx="480.0" cy="203.2" r="1.75"/><circle cx="482.5" cy="185.8" r="1.75"/><circle cx="482.3" cy="188.7" r="1.75"/><circle cx="482.8" cy="191.8" r="1.75"/><circle cx="482.4" cy="194.3" r="1.75"/><circle cx="482.4" cy="197.3" r="1.75"/><circle cx="482.6" cy="200.4" r="1.75"/><circle cx="482.8" cy="203.7" r="1.75"/><circle cx="485.7" cy="191.7" r="1.75"/><circle cx="485.4" cy="194.3" r="1.75"/><circle cx="485.4" cy="197.6" r="1.75"/><circle cx="485.2" cy="200.3" r="1.75"/><circle cx="485.4" cy="203.4" r="1.75"/><circle cx="488.6" cy="194.9" r="1.75"/><circle cx="488.4" cy="197.3" r="1.75"/><circle cx="488.5" cy="200.3" r="1.75"/></g>
<g fill="#800000"><circle cx="434.2" cy="206.6" r="1.75"/><circle cx="434.2" cy="209.5" r="1.75"/><circle cx="434.4" cy="214.8" r="1.75"/><circle cx="437.3" cy="203.4" r="1.75"/><circle cx="437.2" cy="205.9" r="1.75"/><circle cx="440.0" cy="203.2" r="1.75"/><circle cx="440.4" cy="206.3" r="1.75"/><circle cx="440.4" cy="209.1" r="1.75"/><circle cx="439.9" cy="212.1" r="1.75"/><circle cx="440.3" cy="214.8" r="1.75"/><circle cx="442.9" cy="203.1" r="1.75"/><circle cx="442.9" cy="206.6" r="1.75"/><circle cx="443.3" cy="209.0" r="1.75"/><circle cx="442.7" cy="215.2" r="1.75"/><circle cx="445.9" cy="203.7" r="1.75"/><circle cx="445.5" cy="209.1" r="1.75"/><circle cx="448.9" cy="203.6" r="1.75"/><circle cx="448.5" cy="206.5" r="1.75"/><circle cx="448.9" cy="209.2" r="1.75"/><circle cx="451.7" cy="203.3" r="1.75"/><circle cx="451.4" cy="206.6" r="1.75"/><circle cx="454.3" cy="200.7" r="1.75"/><circle cx="454.2" cy="209.4" r="1.75"/><circle cx="454.4" cy="215.3" r="1.75"/><circle cx="457.3" cy="203.2" r="1.75"/><circle cx="457.0" cy="206.1" r="1.75"/><circle cx="457.2" cy="214.8" r="1.75"/><circle cx="459.6" cy="203.2" r="1.75"/><circle cx="462.6" cy="200.3" r="1.75"/><circle cx="462.7" cy="206.1" r="1.75"/><circle cx="462.7" cy="209.0" r="1.75"/><circle cx="462.9" cy="214.8" r="1.75"/><circle cx="465.6" cy="203.5" r="1.75"/><circle cx="465.7" cy="206.4" r="1.75"/><circle cx="468.2" cy="200.4" r="1.75"/><circle cx="468.1" cy="203.5" r="1.75"/><circle cx="468.7" cy="206.3" r="1.75"/><circle cx="468.7" cy="209.5" r="1.75"/><circle cx="468.2" cy="212.2" r="1.75"/><circle cx="471.3" cy="200.2" r="1.75"/><circle cx="471.2" cy="203.3" r="1.75"/><circle cx="471.5" cy="206.0" r="1.75"/><circle cx="471.1" cy="209.5" r="1.75"/><circle cx="470.9" cy="212.4" r="1.75"/><circle cx="474.3" cy="200.6" r="1.75"/><circle cx="474.3" cy="203.0" r="1.75"/><circle cx="473.7" cy="206.0" r="1.75"/><circle cx="474.2" cy="209.1" r="1.75"/><circle cx="473.9" cy="212.0" r="1.75"/><circle cx="476.9" cy="200.5" r="1.75"/><circle cx="477.0" cy="206.2" r="1.75"/><circle cx="476.8" cy="212.1" r="1.75"/><circle cx="479.7" cy="209.3" r="1.75"/><circle cx="479.4" cy="217.7" r="1.75"/><circle cx="482.3" cy="200.5" r="1.75"/><circle cx="485.4" cy="200.3" r="1.75"/><circle cx="485.1" cy="203.4" r="1.75"/><circle cx="488.0" cy="203.3" r="1.75"/><circle cx="488.1" cy="215.3" r="1.75"/><circle cx="490.9" cy="200.2" r="1.75"/><circle cx="491.1" cy="203.1" r="1.75"/><circle cx="491.4" cy="206.4" r="1.75"/><circle cx="491.0" cy="208.9" r="1.75"/><circle cx="493.7" cy="200.3" r="1.75"/><circle cx="493.9" cy="206.2" r="1.75"/><circle cx="493.8" cy="209.0" r="1.75"/><circle cx="493.8" cy="212.0" r="1.75"/><circle cx="496.8" cy="200.1" r="1.75"/><circle cx="496.9" cy="203.7" r="1.75"/><circle cx="496.7" cy="209.0" r="1.75"/><circle cx="496.5" cy="215.2" r="1.75"/><circle cx="499.9" cy="200.4" r="1.75"/><circle cx="499.5" cy="206.2" r="1.75"/><circle cx="499.5" cy="215.2" r="1.75"/><circle cx="502.2" cy="200.1" r="1.75"/><circle cx="502.7" cy="209.5" r="1.75"/><circle cx="502.6" cy="212.1" r="1.75"/><circle cx="502.2" cy="215.0" r="1.75"/><circle cx="502.0" cy="217.7" r="1.75"/><circle cx="505.2" cy="203.4" r="1.75"/><circle cx="505.0" cy="209.5" r="1.75"/><circle cx="505.1" cy="217.8" r="1.75"/><circle cx="508.0" cy="209.5" r="1.75"/><circle cx="508.1" cy="211.9" r="1.75"/></g>
<g fill="#800000"><circle cx="431.8" cy="209.3" r="1.75"/><circle cx="431.5" cy="214.8" r="1.75"/><circle cx="431.8" cy="217.7" r="1.75"/><circle cx="434.7" cy="218.0" r="1.75"/><circle cx="434.4" cy="229.6" r="1.75"/><circle cx="434.7" cy="232.9" r="1.75"/><circle cx="437.4" cy="209.2" r="1.75"/><circle cx="437.1" cy="212.1" r="1.75"/><circle cx="437.3" cy="215.1" r="1.75"/><circle cx="437.0" cy="218.0" r="1.75"/><circle cx="437.1" cy="220.7" r="1.75"/><circle cx="437.0" cy="224.0" r="1.75"/><circle cx="437.5" cy="230.0" r="1.75"/><circle cx="437.1" cy="232.9" r="1.75"/><circle cx="437.2" cy="241.7" r="1.75"/><circle cx="440.4" cy="212.0" r="1.75"/><circle cx="440.5" cy="218.1" r="1.75"/><circle cx="440.2" cy="223.9" r="1.75"/><circle cx="440.3" cy="229.6" r="1.75"/><circle cx="439.9" cy="232.8" r="1.75"/><circle cx="439.9" cy="235.3" r="1.75"/><circle cx="442.9" cy="209.1" r="1.75"/><circle cx="442.6" cy="212.5" r="1.75"/><circle cx="442.8" cy="214.9" r="1.75"/><circle cx="442.9" cy="220.8" r="1.75"/><circle cx="442.8" cy="226.8" r="1.75"/><circle cx="442.6" cy="241.5" r="1.75"/><circle cx="445.7" cy="244.3" r="1.75"/></g>
<g fill="#800000"><circle cx="491.0" cy="179.7" r="1.75"/><circle cx="491.0" cy="182.5" r="1.75"/><circle cx="490.8" cy="185.6" r="1.75"/><circle cx="491.2" cy="188.4" r="1.75"/><circle cx="490.8" cy="191.6" r="1.75"/><circle cx="494.0" cy="177.3" r="1.75"/><circle cx="493.8" cy="179.9" r="1.75"/><circle cx="493.7" cy="182.7" r="1.75"/><circle cx="494.0" cy="185.7" r="1.75"/><circle cx="493.8" cy="188.3" r="1.75"/><circle cx="494.2" cy="191.7" r="1.75"/><circle cx="494.2" cy="194.4" r="1.75"/><circle cx="496.7" cy="177.0" r="1.75"/><circle cx="496.9" cy="179.9" r="1.75"/><circle cx="496.6" cy="182.7" r="1.75"/><circle cx="496.7" cy="185.9" r="1.75"/><circle cx="497.0" cy="188.8" r="1.75"/><circle cx="497.0" cy="191.6" r="1.75"/><circle cx="496.5" cy="194.3" r="1.75"/><circle cx="499.5" cy="173.8" r="1.75"/><circle cx="499.3" cy="177.1" r="1.75"/><circle cx="499.6" cy="179.7" r="1.75"/><circle cx="499.6" cy="182.7" r="1.75"/><circle cx="499.6" cy="185.8" r="1.75"/><circle cx="499.5" cy="188.5" r="1.75"/><circle cx="499.8" cy="191.9" r="1.75"/><circle cx="499.7" cy="194.8" r="1.75"/><circle cx="499.2" cy="197.7" r="1.75"/><circle cx="502.2" cy="173.8" r="1.75"/><circle cx="502.4" cy="176.6" r="1.75"/><circle cx="502.6" cy="179.9" r="1.75"/><circle cx="502.2" cy="183.1" r="1.75"/><circle cx="502.5" cy="185.8" r="1.75"/><circle cx="502.7" cy="188.5" r="1.75"/><circle cx="502.7" cy="191.9" r="1.75"/><circle cx="502.3" cy="194.5" r="1.75"/><circle cx="502.7" cy="197.1" r="1.75"/><circle cx="505.1" cy="174.3" r="1.75"/><circle cx="505.1" cy="177.0" r="1.75"/><circle cx="505.1" cy="180.0" r="1.75"/><circle cx="505.1" cy="182.6" r="1.75"/><circle cx="505.4" cy="185.7" r="1.75"/><circle cx="505.2" cy="188.4" r="1.75"/><circle cx="505.0" cy="191.4" r="1.75"/><circle cx="505.0" cy="194.3" r="1.75"/><circle cx="505.2" cy="197.1" r="1.75"/><circle cx="508.1" cy="174.2" r="1.75"/><circle cx="507.9" cy="177.1" r="1.75"/><circle cx="508.1" cy="179.9" r="1.75"/><circle cx="507.9" cy="182.8" r="1.75"/><circle cx="507.9" cy="185.5" r="1.75"/><circle cx="507.8" cy="188.9" r="1.75"/><circle cx="508.3" cy="191.6" r="1.75"/><circle cx="508.0" cy="194.7" r="1.75"/><circle cx="508.1" cy="197.4" r="1.75"/><circle cx="510.7" cy="179.8" r="1.75"/><circle cx="510.9" cy="182.7" r="1.75"/><circle cx="511.2" cy="185.7" r="1.75"/><circle cx="510.7" cy="189.0" r="1.75"/><circle cx="510.6" cy="191.8" r="1.75"/><circle cx="511.1" cy="194.3" r="1.75"/><circle cx="510.9" cy="197.2" r="1.75"/><circle cx="513.8" cy="183.0" r="1.75"/><circle cx="513.8" cy="185.5" r="1.75"/><circle cx="513.5" cy="189.0" r="1.75"/><circle cx="513.7" cy="191.6" r="1.75"/><circle cx="513.4" cy="194.7" r="1.75"/></g>
<g fill="#800000"><circle cx="482.6" cy="194.4" r="1.75"/><circle cx="482.9" cy="197.6" r="1.75"/><circle cx="482.8" cy="200.7" r="1.75"/><circle cx="482.9" cy="203.0" r="1.75"/><circle cx="482.3" cy="206.6" r="1.75"/><circle cx="482.7" cy="209.0" r="1.75"/><circle cx="482.8" cy="211.8" r="1.75"/><circle cx="482.2" cy="215.0" r="1.75"/><circle cx="485.7" cy="194.4" r="1.75"/><circle cx="485.1" cy="197.8" r="1.75"/><circle cx="485.1" cy="203.3" r="1.75"/><circle cx="485.6" cy="206.6" r="1.75"/><circle cx="485.2" cy="208.9" r="1.75"/><circle cx="485.4" cy="218.0" r="1.75"/><circle cx="488.4" cy="194.4" r="1.75"/><circle cx="487.9" cy="197.4" r="1.75"/><circle cx="488.1" cy="200.3" r="1.75"/><circle cx="488.4" cy="203.4" r="1.75"/><circle cx="488.4" cy="206.5" r="1.75"/><circle cx="488.3" cy="215.0" r="1.75"/><circle cx="488.2" cy="217.7" r="1.75"/><circle cx="491.2" cy="194.4" r="1.75"/><circle cx="490.8" cy="197.7" r="1.75"/><circle cx="490.8" cy="200.6" r="1.75"/><circle cx="490.9" cy="203.6" r="1.75"/><circle cx="490.8" cy="206.2" r="1.75"/><circle cx="491.1" cy="209.2" r="1.75"/><circle cx="491.2" cy="214.7" r="1.75"/><circle cx="493.7" cy="194.6" r="1.75"/><circle cx="493.6" cy="197.5" r="1.75"/><circle cx="493.6" cy="200.5" r="1.75"/><circle cx="494.1" cy="206.6" r="1.75"/><circle cx="493.8" cy="209.0" r="1.75"/><circle cx="493.7" cy="212.5" r="1.75"/><circle cx="494.2" cy="215.2" r="1.75"/><circle cx="494.0" cy="220.7" r="1.75"/><circle cx="497.0" cy="194.2" r="1.75"/><circle cx="496.6" cy="197.7" r="1.75"/><circle cx="496.8" cy="200.4" r="1.75"/><circle cx="496.7" cy="203.3" r="1.75"/><circle cx="496.7" cy="206.2" r="1.75"/><circle cx="497.0" cy="214.7" r="1.75"/><circle cx="497.0" cy="217.8" r="1.75"/><circle cx="497.0" cy="221.0" r="1.75"/><circle cx="499.6" cy="197.7" r="1.75"/><circle cx="499.8" cy="200.4" r="1.75"/><circle cx="499.9" cy="203.4" r="1.75"/><circle cx="499.3" cy="206.1" r="1.75"/><circle cx="499.6" cy="212.3" r="1.75"/><circle cx="499.4" cy="215.3" r="1.75"/><circle cx="499.3" cy="218.3" r="1.75"/><circle cx="502.5" cy="194.4" r="1.75"/><circle cx="502.7" cy="197.8" r="1.75"/><circle cx="502.6" cy="200.3" r="1.75"/><circle cx="502.4" cy="203.6" r="1.75"/><circle cx="502.3" cy="206.4" r="1.75"/><circle cx="502.6" cy="209.5" r="1.75"/><circle cx="502.3" cy="215.4" r="1.75"/><circle cx="502.5" cy="217.7" r="1.75"/><circle cx="502.2" cy="221.0" r="1.75"/><circle cx="505.0" cy="194.5" r="1.75"/><circle cx="505.0" cy="197.7" r="1.75"/><circle cx="505.2" cy="203.4" r="1.75"/><circle cx="505.2" cy="209.4" r="1.75"/><circle cx="505.3" cy="215.3" r="1.75"/><circle cx="505.4" cy="217.8" r="1.75"/><circle cx="505.1" cy="220.9" r="1.75"/><circle cx="507.7" cy="194.8" r="1.75"/><circle cx="508.0" cy="203.0" r="1.75"/><circle cx="507.8" cy="209.3" r="1.75"/><circle cx="507.9" cy="212.2" r="1.75"/><circle cx="507.8" cy="217.9" r="1.75"/><circle cx="510.8" cy="200.2" r="1.75"/><circle cx="511.0" cy="203.3" r="1.75"/><circle cx="511.0" cy="206.3" r="1.75"/><circle cx="510.7" cy="209.4" r="1.75"/><circle cx="514.0" cy="194.8" r="1.75"/><circle cx="514.0" cy="197.6" r="1.75"/><circle cx="513.5" cy="203.1" r="1.75"/><circle cx="513.6" cy="209.4" r="1.75"/><circle cx="513.8" cy="212.2" r="1.75"/><circle cx="514.0" cy="215.2" r="1.75"/><circle cx="513.8" cy="218.1" r="1.75"/><circle cx="514.0" cy="221.2" r="1.75"/><circle cx="516.5" cy="194.7" r="1.75"/><circle cx="516.6" cy="197.6" r="1.75"/><circle cx="516.2" cy="209.1" r="1.75"/><circle cx="516.7" cy="212.0" r="1.75"/><circle cx="516.7" cy="215.0" r="1.75"/><circle cx="516.6" cy="220.7" r="1.75"/><circle cx="519.0" cy="197.3" r="1.75"/><circle cx="519.1" cy="203.0" r="1.75"/><circle cx="519.0" cy="209.1" r="1.75"/><circle cx="519.5" cy="212.3" r="1.75"/><circle cx="519.5" cy="214.7" r="1.75"/><circle cx="519.5" cy="220.7" r="1.75"/><circle cx="522.0" cy="194.5" r="1.75"/><circle cx="522.1" cy="197.5" r="1.75"/><circle cx="522.1" cy="203.6" r="1.75"/><circle cx="522.2" cy="209.1" r="1.75"/><circle cx="522.1" cy="212.4" r="1.75"/><circle cx="522.0" cy="214.8" r="1.75"/><circle cx="522.1" cy="218.0" r="1.75"/><circle cx="522.1" cy="220.9" r="1.75"/><circle cx="525.1" cy="194.4" r="1.75"/><circle cx="525.3" cy="197.2" r="1.75"/><circle cx="524.8" cy="203.3" r="1.75"/><circle cx="524.6" cy="212.3" r="1.75"/><circle cx="525.3" cy="214.8" r="1.75"/><circle cx="525.1" cy="218.3" r="1.75"/><circle cx="528.2" cy="194.6" r="1.75"/><circle cx="527.8" cy="200.7" r="1.75"/><circle cx="528.1" cy="205.9" r="1.75"/><circle cx="527.6" cy="209.5" r="1.75"/><circle cx="527.8" cy="212.4" r="1.75"/><circle cx="527.6" cy="215.4" r="1.75"/><circle cx="528.2" cy="218.2" r="1.75"/><circle cx="528.1" cy="220.7" r="1.75"/><circle cx="530.4" cy="194.7" r="1.75"/><circle cx="530.9" cy="197.2" r="1.75"/><circle cx="530.9" cy="200.2" r="1.75"/><circle cx="530.7" cy="203.1" r="1.75"/><circle cx="530.9" cy="206.1" r="1.75"/><circle cx="530.9" cy="208.9" r="1.75"/><circle cx="530.9" cy="215.0" r="1.75"/><circle cx="530.7" cy="220.6" r="1.75"/></g>
<g fill="#800000"><circle cx="525.0" cy="185.7" r="1.75"/><circle cx="524.9" cy="188.8" r="1.75"/><circle cx="525.1" cy="191.3" r="1.75"/><circle cx="524.9" cy="194.3" r="1.75"/><circle cx="525.2" cy="200.7" r="1.75"/><circle cx="525.3" cy="203.5" r="1.75"/><circle cx="525.0" cy="209.3" r="1.75"/><circle cx="524.8" cy="212.0" r="1.75"/><circle cx="525.2" cy="215.0" r="1.75"/><circle cx="525.1" cy="218.3" r="1.75"/><circle cx="524.7" cy="221.3" r="1.75"/><circle cx="527.6" cy="188.5" r="1.75"/><circle cx="527.5" cy="191.7" r="1.75"/><circle cx="528.1" cy="197.5" r="1.75"/><circle cx="528.0" cy="203.3" r="1.75"/><circle cx="527.5" cy="208.9" r="1.75"/><circle cx="527.7" cy="212.0" r="1.75"/><circle cx="527.7" cy="220.9" r="1.75"/><circle cx="530.4" cy="191.3" r="1.75"/><circle cx="530.3" cy="194.6" r="1.75"/><circle cx="530.8" cy="200.7" r="1.75"/><circle cx="530.7" cy="206.1" r="1.75"/><circle cx="530.3" cy="209.2" r="1.75"/><circle cx="530.4" cy="215.0" r="1.75"/><circle cx="530.6" cy="218.2" r="1.75"/><circle cx="530.3" cy="220.6" r="1.75"/><circle cx="530.8" cy="224.2" r="1.75"/><circle cx="533.3" cy="185.7" r="1.75"/><circle cx="533.2" cy="188.6" r="1.75"/><circle cx="533.7" cy="194.8" r="1.75"/><circle cx="533.3" cy="197.2" r="1.75"/><circle cx="533.4" cy="208.9" r="1.75"/><circle cx="533.3" cy="211.9" r="1.75"/><circle cx="533.8" cy="214.9" r="1.75"/><circle cx="533.5" cy="218.0" r="1.75"/><circle cx="536.3" cy="191.8" r="1.75"/><circle cx="536.2" cy="197.2" r="1.75"/><circle cx="536.2" cy="203.1" r="1.75"/><circle cx="536.5" cy="206.4" r="1.75"/><circle cx="536.2" cy="209.3" r="1.75"/><circle cx="536.6" cy="211.8" r="1.75"/><circle cx="536.6" cy="218.1" r="1.75"/><circle cx="536.3" cy="221.2" r="1.75"/><circle cx="539.2" cy="206.2" r="1.75"/><circle cx="538.8" cy="218.3" r="1.75"/><circle cx="541.7" cy="188.8" r="1.75"/><circle cx="542.3" cy="194.3" r="1.75"/><circle cx="541.9" cy="197.2" r="1.75"/><circle cx="541.7" cy="200.1" r="1.75"/><circle cx="542.1" cy="203.5" r="1.75"/><circle cx="542.1" cy="208.9" r="1.75"/><circle cx="541.7" cy="215.0" r="1.75"/><circle cx="542.1" cy="217.9" r="1.75"/><circle cx="541.7" cy="220.6" r="1.75"/><circle cx="544.9" cy="185.8" r="1.75"/><circle cx="545.1" cy="188.6" r="1.75"/><circle cx="545.1" cy="194.3" r="1.75"/><circle cx="544.5" cy="197.4" r="1.75"/><circle cx="545.1" cy="203.1" r="1.75"/><circle cx="545.1" cy="209.0" r="1.75"/><circle cx="545.0" cy="220.6" r="1.75"/><circle cx="547.7" cy="191.7" r="1.75"/><circle cx="547.4" cy="194.5" r="1.75"/><circle cx="547.7" cy="197.4" r="1.75"/><circle cx="547.7" cy="200.7" r="1.75"/><circle cx="547.5" cy="206.6" r="1.75"/><circle cx="547.8" cy="208.9" r="1.75"/><circle cx="547.5" cy="218.1" r="1.75"/></g>
<g fill="#800000"><circle cx="516.3" cy="191.5" r="1.75"/><circle cx="516.5" cy="203.6" r="1.75"/><circle cx="516.2" cy="215.2" r="1.75"/><circle cx="516.2" cy="218.2" r="1.75"/><circle cx="519.0" cy="191.3" r="1.75"/><circle cx="519.1" cy="197.1" r="1.75"/><circle cx="519.0" cy="200.3" r="1.75"/><circle cx="519.2" cy="203.6" r="1.75"/><circle cx="519.5" cy="206.4" r="1.75"/><circle cx="519.2" cy="220.7" r="1.75"/><circle cx="522.1" cy="194.8" r="1.75"/><circle cx="521.9" cy="203.4" r="1.75"/><circle cx="522.0" cy="206.2" r="1.75"/></g>
<g fill="#800000"><circle cx="528.0" cy="224.2" r="1.75"/><circle cx="530.7" cy="224.2" r="1.75"/><circle cx="530.7" cy="227.1" r="1.75"/><circle cx="530.5" cy="229.4" r="1.75"/><circle cx="531.0" cy="235.3" r="1.75"/><circle cx="530.9" cy="238.8" r="1.75"/><circle cx="530.6" cy="241.1" r="1.75"/><circle cx="533.7" cy="224.1" r="1.75"/><circle cx="533.5" cy="227.1" r="1.75"/><circle cx="533.4" cy="229.6" r="1.75"/><circle cx="533.3" cy="232.7" r="1.75"/><circle cx="533.5" cy="235.3" r="1.75"/><circle cx="533.8" cy="238.4" r="1.75"/><circle cx="533.8" cy="241.5" r="1.75"/><circle cx="536.5" cy="226.7" r="1.75"/><circle cx="536.6" cy="230.0" r="1.75"/><circle cx="536.3" cy="232.8" r="1.75"/><circle cx="536.5" cy="235.9" r="1.75"/><circle cx="536.2" cy="238.3" r="1.75"/><circle cx="536.1" cy="241.2" r="1.75"/><circle cx="536.5" cy="244.4" r="1.75"/><circle cx="539.4" cy="224.1" r="1.75"/><circle cx="539.4" cy="226.5" r="1.75"/><circle cx="539.4" cy="229.8" r="1.75"/><circle cx="538.8" cy="232.4" r="1.75"/><circle cx="538.9" cy="235.6" r="1.75"/><circle cx="538.9" cy="238.4" r="1.75"/><circle cx="539.1" cy="241.4" r="1.75"/><circle cx="539.2" cy="244.4" r="1.75"/><circle cx="542.3" cy="224.0" r="1.75"/><circle cx="541.8" cy="226.6" r="1.75"/><circle cx="541.6" cy="229.9" r="1.75"/><circle cx="541.9" cy="232.9" r="1.75"/><circle cx="542.0" cy="235.9" r="1.75"/><circle cx="544.8" cy="226.9" r="1.75"/><circle cx="544.7" cy="229.7" r="1.75"/><circle cx="544.8" cy="232.6" r="1.75"/><circle cx="544.6" cy="235.9" r="1.75"/><circle cx="548.0" cy="226.5" r="1.75"/><circle cx="547.3" cy="232.7" r="1.75"/></g>
<g fill="#800000"><circle cx="550.6" cy="188.7" r="1.75"/><circle cx="550.5" cy="191.8" r="1.75"/><circle cx="550.3" cy="194.3" r="1.75"/><circle cx="550.7" cy="197.2" r="1.75"/><circle cx="550.2" cy="203.1" r="1.75"/><circle cx="550.4" cy="209.2" r="1.75"/><circle cx="550.6" cy="212.2" r="1.75"/><circle cx="550.3" cy="215.3" r="1.75"/><circle cx="550.2" cy="220.7" r="1.75"/><circle cx="550.1" cy="224.0" r="1.75"/><circle cx="553.5" cy="188.9" r="1.75"/><circle cx="553.6" cy="194.3" r="1.75"/><circle cx="553.5" cy="203.1" r="1.75"/><circle cx="553.1" cy="206.2" r="1.75"/><circle cx="553.2" cy="212.4" r="1.75"/><circle cx="553.0" cy="215.4" r="1.75"/><circle cx="552.9" cy="218.0" r="1.75"/><circle cx="553.0" cy="221.1" r="1.75"/><circle cx="553.2" cy="223.9" r="1.75"/><circle cx="556.0" cy="194.6" r="1.75"/><circle cx="556.0" cy="197.7" r="1.75"/><circle cx="555.9" cy="203.5" r="1.75"/><circle cx="555.8" cy="212.4" r="1.75"/><circle cx="559.2" cy="188.8" r="1.75"/><circle cx="558.8" cy="194.6" r="1.75"/><circle cx="558.8" cy="197.5" r="1.75"/><circle cx="558.9" cy="206.3" r="1.75"/><circle cx="559.2" cy="215.3" r="1.75"/><circle cx="558.8" cy="217.8" r="1.75"/><circle cx="558.7" cy="220.7" r="1.75"/><circle cx="562.0" cy="191.8" r="1.75"/><circle cx="561.5" cy="194.7" r="1.75"/><circle cx="562.1" cy="206.0" r="1.75"/><circle cx="561.8" cy="209.3" r="1.75"/><circle cx="562.0" cy="212.3" r="1.75"/><circle cx="561.4" cy="221.0" r="1.75"/><circle cx="564.8" cy="188.8" r="1.75"/><circle cx="564.4" cy="191.4" r="1.75"/><circle cx="564.7" cy="194.2" r="1.75"/><circle cx="564.7" cy="197.4" r="1.75"/><circle cx="564.5" cy="200.7" r="1.75"/><circle cx="564.4" cy="203.1" r="1.75"/><circle cx="564.4" cy="206.1" r="1.75"/><circle cx="564.7" cy="209.4" r="1.75"/><circle cx="564.7" cy="212.0" r="1.75"/><circle cx="564.9" cy="217.7" r="1.75"/><circle cx="567.3" cy="194.8" r="1.75"/><circle cx="567.4" cy="200.2" r="1.75"/><circle cx="567.5" cy="203.3" r="1.75"/><circle cx="567.6" cy="206.1" r="1.75"/><circle cx="567.3" cy="209.0" r="1.75"/><circle cx="567.7" cy="215.2" r="1.75"/><circle cx="567.7" cy="217.9" r="1.75"/><circle cx="567.5" cy="220.6" r="1.75"/><circle cx="570.0" cy="189.0" r="1.75"/><circle cx="570.6" cy="191.6" r="1.75"/><circle cx="570.1" cy="200.4" r="1.75"/><circle cx="570.5" cy="203.1" r="1.75"/><circle cx="570.0" cy="206.0" r="1.75"/><circle cx="570.3" cy="211.9" r="1.75"/><circle cx="570.4" cy="224.0" r="1.75"/><circle cx="570.4" cy="226.7" r="1.75"/><circle cx="573.3" cy="188.9" r="1.75"/><circle cx="572.9" cy="191.9" r="1.75"/><circle cx="573.0" cy="194.5" r="1.75"/><circle cx="573.1" cy="197.2" r="1.75"/><circle cx="573.2" cy="200.6" r="1.75"/><circle cx="572.9" cy="203.2" r="1.75"/><circle cx="572.8" cy="206.1" r="1.75"/><circle cx="573.4" cy="209.4" r="1.75"/><circle cx="572.9" cy="215.1" r="1.75"/><circle cx="573.2" cy="224.2" r="1.75"/><circle cx="573.1" cy="226.5" r="1.75"/><circle cx="576.1" cy="191.8" r="1.75"/><circle cx="576.2" cy="200.5" r="1.75"/><circle cx="576.1" cy="209.0" r="1.75"/><circle cx="575.9" cy="220.7" r="1.75"/><circle cx="575.7" cy="227.0" r="1.75"/><circle cx="578.7" cy="188.9" r="1.75"/><circle cx="578.8" cy="191.6" r="1.75"/><circle cx="578.6" cy="194.6" r="1.75"/><circle cx="578.5" cy="197.3" r="1.75"/><circle cx="578.9" cy="203.2" r="1.75"/><circle cx="579.0" cy="209.4" r="1.75"/><circle cx="578.6" cy="215.4" r="1.75"/><circle cx="578.9" cy="217.9" r="1.75"/><circle cx="578.7" cy="220.8" r="1.75"/><circle cx="579.0" cy="226.5" r="1.75"/><circle cx="581.6" cy="189.0" r="1.75"/><circle cx="581.3" cy="191.9" r="1.75"/><circle cx="581.3" cy="197.4" r="1.75"/><circle cx="581.6" cy="200.6" r="1.75"/><circle cx="581.9" cy="203.3" r="1.75"/><circle cx="581.7" cy="206.5" r="1.75"/><circle cx="581.2" cy="209.1" r="1.75"/><circle cx="581.8" cy="212.0" r="1.75"/><circle cx="581.6" cy="214.8" r="1.75"/><circle cx="581.6" cy="217.8" r="1.75"/><circle cx="581.7" cy="221.1" r="1.75"/><circle cx="581.3" cy="224.1" r="1.75"/><circle cx="584.5" cy="188.4" r="1.75"/><circle cx="584.3" cy="191.9" r="1.75"/><circle cx="584.4" cy="194.8" r="1.75"/><circle cx="584.2" cy="197.2" r="1.75"/><circle cx="584.5" cy="200.7" r="1.75"/><circle cx="584.5" cy="206.1" r="1.75"/><circle cx="584.0" cy="209.5" r="1.75"/><circle cx="584.3" cy="218.2" r="1.75"/><circle cx="584.5" cy="220.8" r="1.75"/><circle cx="584.5" cy="223.7" r="1.75"/><circle cx="584.2" cy="226.7" r="1.75"/><circle cx="587.0" cy="188.8" r="1.75"/><circle cx="587.2" cy="191.8" r="1.75"/><circle cx="587.2" cy="194.9" r="1.75"/><circle cx="587.3" cy="197.2" r="1.75"/><circle cx="587.2" cy="200.2" r="1.75"/><circle cx="587.1" cy="203.3" r="1.75"/><circle cx="587.2" cy="206.1" r="1.75"/><circle cx="587.4" cy="209.2" r="1.75"/><circle cx="587.4" cy="212.2" r="1.75"/><circle cx="587.1" cy="215.4" r="1.75"/><circle cx="587.5" cy="217.9" r="1.75"/><circle cx="587.3" cy="223.8" r="1.75"/><circle cx="586.9" cy="226.7" r="1.75"/><circle cx="590.1" cy="188.8" r="1.75"/><circle cx="589.7" cy="194.3" r="1.75"/><circle cx="590.2" cy="200.7" r="1.75"/><circle cx="590.2" cy="206.0" r="1.75"/><circle cx="590.3" cy="212.4" r="1.75"/><circle cx="589.9" cy="214.8" r="1.75"/><circle cx="589.8" cy="217.9" r="1.75"/><circle cx="589.7" cy="221.1" r="1.75"/><circle cx="593.0" cy="188.4" r="1.75"/><circle cx="593.0" cy="191.6" r="1.75"/><circle cx="593.1" cy="194.5" r="1.75"/><circle cx="593.2" cy="197.4" r="1.75"/><circle cx="593.0" cy="203.5" r="1.75"/><circle cx="592.9" cy="206.5" r="1.75"/><circle cx="593.0" cy="212.0" r="1.75"/><circle cx="593.1" cy="215.2" r="1.75"/><circle cx="592.6" cy="220.7" r="1.75"/><circle cx="595.4" cy="188.6" r="1.75"/><circle cx="596.0" cy="197.7" r="1.75"/><circle cx="595.5" cy="200.6" r="1.75"/><circle cx="596.0" cy="208.8" r="1.75"/><circle cx="595.4" cy="212.5" r="1.75"/><circle cx="595.7" cy="218.0" r="1.75"/><circle cx="595.5" cy="220.7" r="1.75"/><circle cx="598.5" cy="188.6" r="1.75"/><circle cx="598.6" cy="194.3" r="1.75"/><circle cx="598.5" cy="203.5" r="1.75"/><circle cx="598.3" cy="206.0" r="1.75"/><circle cx="598.6" cy="209.5" r="1.75"/><circle cx="598.8" cy="212.3" r="1.75"/><circle cx="598.5" cy="214.8" r="1.75"/><circle cx="598.8" cy="220.9" r="1.75"/><circle cx="598.6" cy="224.1" r="1.75"/><circle cx="601.2" cy="188.9" r="1.75"/><circle cx="601.6" cy="191.6" r="1.75"/><circle cx="601.3" cy="194.5" r="1.75"/><circle cx="601.4" cy="206.1" r="1.75"/><circle cx="601.6" cy="212.4" r="1.75"/><circle cx="601.1" cy="214.8" r="1.75"/><circle cx="601.0" cy="217.9" r="1.75"/><circle cx="601.0" cy="220.6" r="1.75"/><circle cx="604.3" cy="188.4" r="1.75"/><circle cx="604.3" cy="194.5" r="1.75"/><circle cx="604.2" cy="209.1" r="1.75"/><circle cx="603.9" cy="212.1" r="1.75"/><circle cx="604.0" cy="214.7" r="1.75"/><circle cx="603.9" cy="218.3" r="1.75"/><circle cx="603.9" cy="224.2" r="1.75"/><circle cx="607.3" cy="194.9" r="1.75"/><circle cx="607.1" cy="206.5" r="1.75"/><circle cx="607.1" cy="209.1" r="1.75"/><circle cx="606.9" cy="211.9" r="1.75"/><circle cx="607.0" cy="221.2" r="1.75"/><circle cx="606.8" cy="223.7" r="1.75"/><circle cx="609.9" cy="194.6" r="1.75"/><circle cx="609.7" cy="209.2" r="1.75"/><circle cx="609.6" cy="218.3" r="1.75"/><circle cx="612.6" cy="188.5" r="1.75"/><circle cx="613.0" cy="194.8" r="1.75"/><circle cx="613.0" cy="209.4" r="1.75"/><circle cx="612.7" cy="212.2" r="1.75"/><circle cx="612.4" cy="215.2" r="1.75"/><circle cx="612.6" cy="217.9" r="1.75"/><circle cx="615.5" cy="188.5" r="1.75"/><circle cx="615.4" cy="191.6" r="1.75"/><circle cx="615.3" cy="194.4" r="1.75"/><circle cx="615.6" cy="209.5" r="1.75"/><circle cx="615.7" cy="215.4" r="1.75"/><circle cx="615.7" cy="221.1" r="1.75"/><circle cx="618.5" cy="200.5" r="1.75"/><circle cx="618.1" cy="203.6" r="1.75"/><circle cx="618.4" cy="212.0" r="1.75"/><circle cx="618.1" cy="218.1" r="1.75"/><circle cx="621.1" cy="188.8" r="1.75"/><circle cx="621.2" cy="194.8" r="1.75"/><circle cx="621.1" cy="203.4" r="1.75"/><circle cx="620.8" cy="211.9" r="1.75"/><circle cx="621.0" cy="215.1" r="1.75"/><circle cx="621.0" cy="218.0" r="1.75"/><circle cx="623.9" cy="188.8" r="1.75"/><circle cx="624.2" cy="191.3" r="1.75"/><circle cx="624.3" cy="209.3" r="1.75"/><circle cx="623.6" cy="212.3" r="1.75"/><circle cx="623.9" cy="214.9" r="1.75"/><circle cx="624.3" cy="217.7" r="1.75"/><circle cx="626.8" cy="191.6" r="1.75"/><circle cx="626.5" cy="194.3" r="1.75"/><circle cx="626.5" cy="209.0" r="1.75"/><circle cx="626.9" cy="212.0" r="1.75"/><circle cx="626.8" cy="214.9" r="1.75"/><circle cx="626.7" cy="217.9" r="1.75"/><circle cx="626.5" cy="220.9" r="1.75"/><circle cx="629.6" cy="188.8" r="1.75"/><circle cx="629.6" cy="191.8" r="1.75"/><circle cx="629.5" cy="194.6" r="1.75"/><circle cx="629.6" cy="203.3" r="1.75"/><circle cx="629.9" cy="212.3" r="1.75"/><circle cx="629.3" cy="215.0" r="1.75"/><circle cx="629.9" cy="221.0" r="1.75"/></g>
<g fill="#800000"><circle cx="584.5" cy="226.9" r="1.75"/><circle cx="590.1" cy="227.0" r="1.75"/><circle cx="592.6" cy="230.1" r="1.75"/><circle cx="595.6" cy="229.5" r="1.75"/><circle cx="598.2" cy="226.5" r="1.75"/><circle cx="601.1" cy="223.6" r="1.75"/><circle cx="601.2" cy="229.5" r="1.75"/><circle cx="607.3" cy="226.5" r="1.75"/><circle cx="609.8" cy="229.8" r="1.75"/><circle cx="615.4" cy="229.9" r="1.75"/><circle cx="626.6" cy="229.8" r="1.75"/><circle cx="629.9" cy="224.0" r="1.75"/></g>
<g fill="#800000"><circle cx="541.8" cy="170.9" r="1.75"/><circle cx="541.7" cy="176.7" r="1.75"/><circle cx="544.9" cy="174.2" r="1.75"/><circle cx="545.1" cy="183.0" r="1.75"/><circle cx="547.6" cy="171.2" r="1.75"/><circle cx="547.7" cy="179.6" r="1.75"/><circle cx="547.6" cy="185.7" r="1.75"/><circle cx="550.4" cy="168.2" r="1.75"/><circle cx="550.1" cy="182.7" r="1.75"/><circle cx="550.6" cy="185.6" r="1.75"/></g>
<g fill="#ffe600"><circle cx="561.9" cy="156.7" r="1.6"/><circle cx="561.8" cy="159.6" r="1.6"/><circle cx="564.3" cy="153.4" r="1.6"/><circle cx="564.5" cy="159.7" r="1.6"/><circle cx="564.4" cy="162.2" r="1.6"/><circle cx="567.4" cy="156.5" r="1.6"/><circle cx="567.1" cy="162.3" r="1.6"/><circle cx="570.0" cy="153.3" r="1.6"/><circle cx="570.1" cy="156.6" r="1.6"/><circle cx="570.0" cy="159.0" r="1.6"/><circle cx="570.5" cy="162.1" r="1.6"/><circle cx="572.7" cy="153.6" r="1.6"/><circle cx="572.8" cy="156.5" r="1.6"/><circle cx="573.0" cy="159.1" r="1.6"/><circle cx="573.1" cy="162.2" r="1.6"/><circle cx="576.2" cy="153.7" r="1.6"/><circle cx="576.2" cy="156.5" r="1.6"/><circle cx="575.6" cy="159.4" r="1.6"/><circle cx="579.0" cy="156.1" r="1.6"/><circle cx="578.6" cy="159.5" r="1.6"/><circle cx="581.7" cy="153.2" r="1.6"/><circle cx="581.3" cy="156.4" r="1.6"/><circle cx="581.3" cy="159.5" r="1.6"/><circle cx="581.4" cy="162.0" r="1.6"/><circle cx="584.2" cy="153.2" r="1.6"/><circle cx="584.2" cy="156.4" r="1.6"/><circle cx="584.0" cy="159.5" r="1.6"/><circle cx="584.1" cy="162.2" r="1.6"/><circle cx="587.0" cy="153.4" r="1.6"/><circle cx="587.0" cy="156.2" r="1.6"/><circle cx="587.2" cy="159.6" r="1.6"/><circle cx="587.2" cy="161.9" r="1.6"/><circle cx="590.1" cy="153.4" r="1.6"/><circle cx="589.9" cy="162.1" r="1.6"/><circle cx="592.6" cy="153.3" r="1.6"/><circle cx="593.2" cy="159.3" r="1.6"/><circle cx="595.4" cy="153.5" r="1.6"/><circle cx="596.0" cy="156.6" r="1.6"/><circle cx="596.0" cy="159.4" r="1.6"/><circle cx="598.3" cy="153.3" r="1.6"/><circle cx="598.9" cy="159.0" r="1.6"/><circle cx="598.6" cy="162.2" r="1.6"/><circle cx="601.4" cy="153.4" r="1.6"/><circle cx="601.0" cy="156.5" r="1.6"/><circle cx="601.6" cy="162.2" r="1.6"/><circle cx="604.4" cy="153.8" r="1.6"/><circle cx="604.4" cy="156.3" r="1.6"/><circle cx="604.0" cy="159.7" r="1.6"/><circle cx="604.0" cy="162.0" r="1.6"/><circle cx="606.7" cy="153.7" r="1.6"/><circle cx="606.7" cy="156.2" r="1.6"/><circle cx="607.2" cy="159.0" r="1.6"/><circle cx="606.9" cy="162.0" r="1.6"/><circle cx="609.9" cy="153.3" r="1.6"/><circle cx="609.8" cy="156.4" r="1.6"/><circle cx="609.7" cy="159.4" r="1.6"/><circle cx="609.7" cy="162.5" r="1.6"/><circle cx="612.7" cy="153.4" r="1.6"/><circle cx="612.8" cy="156.7" r="1.6"/><circle cx="612.6" cy="159.6" r="1.6"/><circle cx="615.5" cy="153.6" r="1.6"/><circle cx="615.6" cy="156.4" r="1.6"/><circle cx="615.7" cy="159.5" r="1.6"/><circle cx="615.4" cy="162.1" r="1.6"/><circle cx="618.2" cy="153.5" r="1.6"/><circle cx="618.6" cy="156.2" r="1.6"/><circle cx="621.0" cy="153.8" r="1.6"/><circle cx="620.9" cy="156.3" r="1.6"/><circle cx="621.0" cy="159.1" r="1.6"/><circle cx="620.8" cy="162.3" r="1.6"/><circle cx="624.0" cy="153.6" r="1.6"/><circle cx="623.7" cy="156.6" r="1.6"/><circle cx="623.9" cy="159.7" r="1.6"/><circle cx="624.1" cy="162.5" r="1.6"/><circle cx="626.6" cy="153.3" r="1.6"/><circle cx="626.6" cy="156.4" r="1.6"/><circle cx="627.0" cy="159.5" r="1.6"/><circle cx="626.5" cy="162.1" r="1.6"/><circle cx="629.9" cy="159.1" r="1.6"/><circle cx="629.6" cy="162.3" r="1.6"/></g>
<g fill="#ffe600"><circle cx="578.7" cy="150.9" r="1.6"/><circle cx="587.1" cy="150.4" r="1.6"/><circle cx="609.8" cy="150.7" r="1.6"/><circle cx="612.7" cy="150.9" r="1.6"/><circle cx="629.7" cy="150.5" r="1.6"/></g>
<g fill="#ff4a00"><circle cx="576.0" cy="147.7" r="1.6"/><circle cx="576.1" cy="153.7" r="1.6"/><circle cx="578.4" cy="153.4" r="1.6"/><circle cx="581.8" cy="150.4" r="1.6"/><circle cx="581.2" cy="153.8" r="1.6"/><circle cx="587.1" cy="147.6" r="1.6"/><circle cx="587.5" cy="150.5" r="1.6"/><circle cx="587.4" cy="153.2" r="1.6"/><circle cx="592.9" cy="147.4" r="1.6"/><circle cx="593.1" cy="150.4" r="1.6"/><circle cx="596.0" cy="147.9" r="1.6"/><circle cx="598.5" cy="153.7" r="1.6"/><circle cx="601.6" cy="147.9" r="1.6"/><circle cx="606.7" cy="150.7" r="1.6"/><circle cx="612.7" cy="150.6" r="1.6"/><circle cx="615.3" cy="147.5" r="1.6"/><circle cx="615.6" cy="153.4" r="1.6"/><circle cx="618.0" cy="147.8" r="1.6"/><circle cx="629.9" cy="153.3" r="1.6"/></g>
<g fill="#ff4a00"><circle cx="321.0" cy="136.2" r="1.6"/><circle cx="321.1" cy="138.9" r="1.6"/><circle cx="321.7" cy="147.5" r="1.6"/><circle cx="324.4" cy="144.8" r="1.6"/><circle cx="324.4" cy="150.6" r="1.6"/><circle cx="327.3" cy="150.4" r="1.6"/><circle cx="330.1" cy="141.9" r="1.6"/><circle cx="329.5" cy="144.7" r="1.6"/><circle cx="330.1" cy="147.6" r="1.6"/><circle cx="332.7" cy="150.6" r="1.6"/><circle cx="335.8" cy="141.7" r="1.6"/><circle cx="338.6" cy="141.5" r="1.6"/><circle cx="340.8" cy="135.9" r="1.6"/><circle cx="341.3" cy="144.4" r="1.6"/><circle cx="349.6" cy="138.9" r="1.6"/><circle cx="349.8" cy="144.6" r="1.6"/><circle cx="349.3" cy="148.0" r="1.6"/></g>
<g fill="#ffe600"><circle cx="344.3" cy="150.4" r="1.6"/><circle cx="346.9" cy="136.1" r="1.6"/><circle cx="346.7" cy="150.5" r="1.6"/><circle cx="347.1" cy="153.6" r="1.6"/><circle cx="349.4" cy="132.9" r="1.6"/><circle cx="349.7" cy="135.9" r="1.6"/><circle cx="349.9" cy="138.5" r="1.6"/><circle cx="349.9" cy="141.6" r="1.6"/><circle cx="352.7" cy="135.7" r="1.6"/><circle cx="352.4" cy="139.1" r="1.6"/><circle cx="355.0" cy="132.7" r="1.6"/><circle cx="355.6" cy="147.5" r="1.6"/><circle cx="355.3" cy="150.6" r="1.6"/></g>
<g fill="#0028ff"><circle cx="332.8" cy="133.0" r="1.6"/><circle cx="338.6" cy="138.6" r="1.6"/><circle cx="341.2" cy="133.2" r="1.6"/><circle cx="344.3" cy="135.8" r="1.6"/></g>
<g fill="#ff4a00"><circle cx="290.3" cy="150.5" r="1.6"/><circle cx="292.9" cy="141.7" r="1.6"/><circle cx="292.8" cy="150.7" r="1.6"/><circle cx="296.1" cy="150.6" r="1.6"/><circle cx="301.5" cy="150.7" r="1.6"/><circle cx="304.2" cy="147.5" r="1.6"/><circle cx="304.1" cy="153.2" r="1.6"/><circle cx="307.1" cy="141.8" r="1.6"/><circle cx="310.2" cy="153.6" r="1.6"/></g>
<g fill="#ffe600"><circle cx="287.1" cy="150.8" r="1.6"/><circle cx="290.5" cy="147.6" r="1.6"/><circle cx="290.5" cy="150.6" r="1.6"/><circle cx="290.5" cy="153.7" r="1.6"/><circle cx="293.4" cy="150.7" r="1.6"/><circle cx="293.1" cy="153.4" r="1.6"/><circle cx="295.8" cy="150.4" r="1.6"/></g>
<g fill="#0028ff"><circle cx="519.4" cy="176.7" r="1.75"/><circle cx="519.1" cy="203.6" r="1.75"/><circle cx="521.8" cy="177.2" r="1.75"/><circle cx="522.2" cy="197.3" r="1.75"/><circle cx="522.0" cy="209.1" r="1.75"/><circle cx="525.1" cy="182.8" r="1.75"/><circle cx="525.3" cy="194.8" r="1.75"/><circle cx="527.7" cy="188.6" r="1.75"/><circle cx="530.5" cy="194.2" r="1.75"/><circle cx="530.6" cy="211.8" r="1.75"/><circle cx="533.7" cy="185.7" r="1.75"/><circle cx="533.8" cy="188.9" r="1.75"/><circle cx="533.5" cy="191.6" r="1.75"/><circle cx="533.4" cy="194.9" r="1.75"/></g>
<g fill="#0028ff"><circle cx="536.0" cy="197.4" r="1.75"/><circle cx="542.3" cy="200.3" r="1.75"/><circle cx="547.8" cy="203.6" r="1.75"/><circle cx="550.3" cy="206.2" r="1.75"/></g>
<g fill="#0028ff"><circle cx="249.0" cy="135.6" r="1.6"/><circle cx="255.0" cy="135.6" r="1.6"/><circle cx="254.0" cy="139.5" r="1.6"/><circle cx="264.5" cy="141.0" r="1.6"/><circle cx="266.5" cy="141.0" r="1.6"/></g>
<g fill="#0028ff"><circle cx="175.0" cy="313.6" r="1.5"/><circle cx="177.8" cy="313.6" r="1.5"/><circle cx="180.7" cy="313.6" r="1.5"/><circle cx="183.5" cy="313.6" r="1.5"/><circle cx="186.3" cy="313.6" r="1.5"/><circle cx="191.0" cy="312.6" r="1.5"/><circle cx="194.0" cy="312.6" r="1.5"/><circle cx="208.0" cy="312.6" r="1.5"/><circle cx="210.8" cy="312.6" r="1.5"/><circle cx="213.7" cy="312.6" r="1.5"/><circle cx="216.5" cy="312.6" r="1.5"/><circle cx="219.3" cy="312.6" r="1.5"/><circle cx="259.0" cy="312.6" r="1.5"/><circle cx="262.0" cy="312.6" r="1.5"/><circle cx="336.0" cy="305.5" r="1.5"/><circle cx="339.0" cy="305.5" r="1.5"/><circle cx="333.0" cy="315.2" r="1.5"/><circle cx="336.0" cy="315.2" r="1.5"/><circle cx="339.0" cy="315.2" r="1.5"/></g>
<g fill="#ff4a00"><circle cx="276.2" cy="162.4" r="1.5"/><circle cx="276.2" cy="165.1" r="1.5"/><circle cx="276.0" cy="168.1" r="1.5"/><circle cx="278.9" cy="162.2" r="1.5"/><circle cx="279.1" cy="171.0" r="1.5"/><circle cx="281.7" cy="162.4" r="1.5"/><circle cx="281.8" cy="168.1" r="1.5"/><circle cx="281.9" cy="171.1" r="1.5"/><circle cx="284.7" cy="162.4" r="1.5"/><circle cx="284.5" cy="165.3" r="1.5"/><circle cx="284.7" cy="168.1" r="1.5"/><circle cx="284.6" cy="171.1" r="1.5"/><circle cx="287.3" cy="162.2" r="1.5"/><circle cx="287.3" cy="165.2" r="1.5"/><circle cx="287.4" cy="168.0" r="1.5"/><circle cx="287.5" cy="171.0" r="1.5"/><circle cx="290.3" cy="168.1" r="1.5"/><circle cx="290.2" cy="171.1" r="1.5"/><circle cx="293.1" cy="162.2" r="1.5"/><circle cx="292.9" cy="165.3" r="1.5"/><circle cx="293.1" cy="171.2" r="1.5"/><circle cx="295.9" cy="162.4" r="1.5"/><circle cx="295.8" cy="165.2" r="1.5"/><circle cx="296.0" cy="168.1" r="1.5"/><circle cx="295.9" cy="171.1" r="1.5"/><circle cx="298.7" cy="162.3" r="1.5"/><circle cx="298.7" cy="165.3" r="1.5"/><circle cx="298.6" cy="168.0" r="1.5"/><circle cx="298.6" cy="171.0" r="1.5"/><circle cx="301.6" cy="162.3" r="1.5"/><circle cx="301.6" cy="168.1" r="1.5"/><circle cx="301.6" cy="171.2" r="1.5"/><circle cx="301.4" cy="174.1" r="1.5"/><circle cx="304.4" cy="162.3" r="1.5"/><circle cx="304.4" cy="165.3" r="1.5"/><circle cx="304.4" cy="168.1" r="1.5"/><circle cx="304.3" cy="171.2" r="1.5"/><circle cx="304.2" cy="174.1" r="1.5"/><circle cx="307.3" cy="162.2" r="1.5"/><circle cx="307.3" cy="165.3" r="1.5"/><circle cx="307.3" cy="168.0" r="1.5"/><circle cx="307.2" cy="171.0" r="1.5"/><circle cx="307.3" cy="174.0" r="1.5"/><circle cx="309.9" cy="162.2" r="1.5"/><circle cx="310.0" cy="165.1" r="1.5"/><circle cx="310.1" cy="168.2" r="1.5"/><circle cx="310.0" cy="171.2" r="1.5"/><circle cx="310.0" cy="174.1" r="1.5"/><circle cx="309.9" cy="176.8" r="1.5"/><circle cx="312.9" cy="162.4" r="1.5"/><circle cx="312.9" cy="165.1" r="1.5"/><circle cx="312.8" cy="168.3" r="1.5"/><circle cx="313.0" cy="171.1" r="1.5"/><circle cx="313.0" cy="177.1" r="1.5"/><circle cx="315.7" cy="162.3" r="1.5"/><circle cx="315.7" cy="165.2" r="1.5"/><circle cx="315.7" cy="168.0" r="1.5"/><circle cx="315.6" cy="171.2" r="1.5"/><circle cx="315.6" cy="174.0" r="1.5"/><circle cx="315.6" cy="177.1" r="1.5"/><circle cx="318.6" cy="162.3" r="1.5"/><circle cx="318.6" cy="165.3" r="1.5"/><circle cx="318.4" cy="168.3" r="1.5"/><circle cx="318.6" cy="171.2" r="1.5"/><circle cx="318.4" cy="174.1" r="1.5"/><circle cx="321.3" cy="165.1" r="1.5"/><circle cx="321.3" cy="168.2" r="1.5"/><circle cx="321.4" cy="171.2" r="1.5"/></g>
<g fill="#ff4a00"><circle cx="321.4" cy="165.2" r="1.5"/><circle cx="324.1" cy="168.0" r="1.5"/><circle cx="327.1" cy="162.3" r="1.5"/><circle cx="327.1" cy="165.1" r="1.5"/><circle cx="329.9" cy="162.4" r="1.5"/><circle cx="329.9" cy="165.1" r="1.5"/><circle cx="332.6" cy="165.3" r="1.5"/><circle cx="335.4" cy="162.3" r="1.5"/><circle cx="335.5" cy="165.2" r="1.5"/><circle cx="335.3" cy="168.0" r="1.5"/><circle cx="338.4" cy="165.3" r="1.5"/><circle cx="341.3" cy="159.5" r="1.5"/><circle cx="341.2" cy="165.1" r="1.5"/></g>
<g fill="#ff4a00"><circle cx="587.2" cy="162.4" r="1.5"/><circle cx="587.1" cy="165.1" r="1.5"/><circle cx="587.1" cy="168.0" r="1.5"/><circle cx="592.8" cy="162.3" r="1.5"/><circle cx="592.7" cy="165.3" r="1.5"/><circle cx="595.6" cy="162.2" r="1.5"/><circle cx="595.7" cy="168.3" r="1.5"/><circle cx="598.5" cy="162.3" r="1.5"/><circle cx="598.4" cy="168.1" r="1.5"/><circle cx="601.4" cy="162.4" r="1.5"/><circle cx="601.2" cy="165.3" r="1.5"/><circle cx="604.3" cy="165.3" r="1.5"/></g>
<g fill="#ff4a00"><circle cx="595.6" cy="238.4" r="1.5"/><circle cx="595.6" cy="241.4" r="1.5"/><circle cx="598.6" cy="241.5" r="1.5"/><circle cx="598.5" cy="244.4" r="1.5"/><circle cx="601.3" cy="235.7" r="1.5"/><circle cx="601.2" cy="241.5" r="1.5"/><circle cx="601.3" cy="244.5" r="1.5"/><circle cx="604.3" cy="235.7" r="1.5"/><circle cx="604.2" cy="241.3" r="1.5"/><circle cx="607.0" cy="235.4" r="1.5"/><circle cx="607.0" cy="238.5" r="1.5"/><circle cx="607.1" cy="241.3" r="1.5"/><circle cx="606.9" cy="244.3" r="1.5"/></g>
<g fill="#ff4a00"><circle cx="598.7" cy="235.6" r="1.5"/><circle cx="598.5" cy="238.4" r="1.5"/><circle cx="598.4" cy="247.3" r="1.5"/><circle cx="601.3" cy="244.3" r="1.5"/><circle cx="601.4" cy="250.3" r="1.5"/><circle cx="601.4" cy="256.0" r="1.5"/><circle cx="601.5" cy="258.9" r="1.5"/><circle cx="601.4" cy="261.9" r="1.5"/><circle cx="604.2" cy="235.7" r="1.5"/><circle cx="604.2" cy="238.4" r="1.5"/><circle cx="604.1" cy="244.3" r="1.5"/><circle cx="604.1" cy="250.3" r="1.5"/><circle cx="607.0" cy="235.5" r="1.5"/><circle cx="606.9" cy="238.4" r="1.5"/><circle cx="607.0" cy="244.4" r="1.5"/><circle cx="606.9" cy="256.1" r="1.5"/><circle cx="607.0" cy="259.0" r="1.5"/><circle cx="610.0" cy="235.7" r="1.5"/><circle cx="609.7" cy="241.6" r="1.5"/><circle cx="609.9" cy="250.2" r="1.5"/><circle cx="610.0" cy="253.3" r="1.5"/><circle cx="609.9" cy="259.1" r="1.5"/><circle cx="612.8" cy="235.5" r="1.5"/><circle cx="612.7" cy="238.6" r="1.5"/><circle cx="612.6" cy="244.4" r="1.5"/><circle cx="612.7" cy="253.1" r="1.5"/><circle cx="612.6" cy="256.1" r="1.5"/><circle cx="612.7" cy="259.0" r="1.5"/><circle cx="612.6" cy="261.9" r="1.5"/><circle cx="615.6" cy="235.6" r="1.5"/><circle cx="615.4" cy="253.3" r="1.5"/><circle cx="618.4" cy="238.6" r="1.5"/><circle cx="618.2" cy="244.4" r="1.5"/><circle cx="618.4" cy="250.3" r="1.5"/><circle cx="618.4" cy="253.1" r="1.5"/><circle cx="618.3" cy="259.0" r="1.5"/><circle cx="621.1" cy="244.4" r="1.5"/><circle cx="621.1" cy="247.5" r="1.5"/><circle cx="621.0" cy="250.2" r="1.5"/><circle cx="623.9" cy="235.6" r="1.5"/><circle cx="624.1" cy="238.6" r="1.5"/><circle cx="624.1" cy="241.6" r="1.5"/><circle cx="623.9" cy="250.2" r="1.5"/><circle cx="624.1" cy="253.1" r="1.5"/><circle cx="624.1" cy="259.0" r="1.5"/><circle cx="626.9" cy="241.4" r="1.5"/><circle cx="626.9" cy="244.3" r="1.5"/><circle cx="626.9" cy="247.4" r="1.5"/><circle cx="626.8" cy="250.3" r="1.5"/><circle cx="626.7" cy="256.0" r="1.5"/><circle cx="626.7" cy="259.1" r="1.5"/><circle cx="626.8" cy="261.9" r="1.5"/><circle cx="629.7" cy="235.7" r="1.5"/><circle cx="629.7" cy="247.2" r="1.5"/><circle cx="629.5" cy="253.3" r="1.5"/><circle cx="629.7" cy="256.2" r="1.5"/><circle cx="629.6" cy="261.8" r="1.5"/></g>
<g fill="#7dff7a"><circle cx="590.0" cy="232.6" r="1.5"/><circle cx="590.0" cy="235.6" r="1.5"/><circle cx="590.0" cy="238.4" r="1.5"/><circle cx="592.9" cy="232.6" r="1.5"/><circle cx="592.8" cy="238.6" r="1.5"/><circle cx="593.0" cy="250.4" r="1.5"/><circle cx="592.8" cy="253.1" r="1.5"/><circle cx="595.8" cy="244.5" r="1.5"/><circle cx="595.8" cy="253.1" r="1.5"/></g>
<g fill="#7dff7a"><circle cx="285.0" cy="265.0" r="1.5"/><circle cx="288.0" cy="262.5" r="1.5"/><circle cx="291.0" cy="260.5" r="1.5"/><circle cx="294.0" cy="258.5" r="1.5"/><circle cx="297.0" cy="257.0" r="1.5"/><circle cx="300.0" cy="255.0" r="1.5"/><circle cx="303.0" cy="252.5" r="1.5"/><circle cx="305.0" cy="250.5" r="1.5"/><circle cx="300.0" cy="258.0" r="1.5"/><circle cx="300.0" cy="261.0" r="1.5"/><circle cx="300.0" cy="264.0" r="1.5"/><circle cx="300.0" cy="267.0" r="1.5"/><circle cx="300.0" cy="269.0" r="1.5"/><circle cx="306.0" cy="261.0" r="1.5"/><circle cx="310.0" cy="263.0" r="1.5"/></g>
</g>
<g opacity="0.999">
<rect x="96.5" y="69.5" width="560" height="280" fill="none" stroke="#000" stroke-width="1.1"/>
<rect x="164" y="350" width="1.1" height="4.6" fill="#000"/>
<rect x="235" y="350" width="1.1" height="4.6" fill="#000"/>
<rect x="305" y="350" width="1.1" height="4.6" fill="#000"/>
<rect x="376" y="350" width="1.1" height="4.6" fill="#000"/>
<rect x="447" y="350" width="1.1" height="4.6" fill="#000"/>
<rect x="517" y="350" width="1.1" height="4.6" fill="#000"/>
<rect x="588" y="350" width="1.1" height="4.6" fill="#000"/>
<rect x="91.4" y="131" width="4.6" height="1.1" fill="#000"/>
<rect x="91.4" y="204" width="4.6" height="1.1" fill="#000"/>
<rect x="91.4" y="278" width="4.6" height="1.1" fill="#000"/>
<text transform="translate(138.40,373.80) scale(1.1315,1)" font-size="19.72" font-family="Liberation Sans, sans-serif" fill="#000">−150</text>
<text transform="translate(209.40,373.80) scale(1.1315,1)" font-size="19.72" font-family="Liberation Sans, sans-serif" fill="#000">−100</text>
<text transform="translate(285.40,373.80) scale(1.1396,1)" font-size="19.72" font-family="Liberation Sans, sans-serif" fill="#000">−50</text>
<text transform="translate(370.40,373.80) scale(1.0143,1)" font-size="19.72" font-family="Liberation Sans, sans-serif" fill="#000">0</text>
<text transform="translate(434.40,373.80) scale(1.0600,1)" font-size="19.72" font-family="Liberation Sans, sans-serif" fill="#000">50</text>
<text transform="translate(500.40,373.80) scale(1.0386,1)" font-size="19.72" font-family="Liberation Sans, sans-serif" fill="#000">100</text>
<text transform="translate(570.40,373.80) scale(1.0386,1)" font-size="19.72" font-family="Liberation Sans, sans-serif" fill="#000">150</text>
<text transform="translate(62.40,138.80) scale(1.0600,1)" font-size="19.72" font-family="Liberation Sans, sans-serif" fill="#000">50</text>
<text transform="translate(74.40,211.80) scale(1.0143,1)" font-size="19.72" font-family="Liberation Sans, sans-serif" fill="#000">0</text>
<text transform="translate(46.40,285.80) scale(1.1396,1)" font-size="19.72" font-family="Liberation Sans, sans-serif" fill="#000">−50</text>
<text transform="translate(323.80,60.50) scale(1.1064,1)" font-size="30.42" font-family="Liberation Sans, sans-serif" fill="#000">1/2021</text>
<text transform="translate(329.00,398.71) scale(1.0615,1)" font-size="20.43" font-family="Liberation Sans, sans-serif" fill="#000">Longitude</text>
<text transform="translate(37.29,250.40) rotate(-90) scale(1.0663,1)" font-size="20.55" font-family="Liberation Sans, sans-serif" fill="#000">Latitude</text>
<rect x="666.5" y="79.5" width="126" height="220" rx="2.8" ry="2.8" fill="#fff" stroke="#d0d0d0" stroke-width="1.1"/>
<text transform="translate(674.10,98.64) scale(1.2498,1)" font-size="15.62" font-family="Liberation Sans, sans-serif" font-weight="bold" fill="#000">Predicted</text>
<text transform="translate(674.10,115.56) scale(1.1429,1)" font-size="17.33" font-family="Liberation Sans, sans-serif" font-weight="bold" fill="#000">comm. type</text>
<rect x="695" y="130.00" width="40" height="14.6" fill="#0028ff"/>
<text transform="translate(751.00,143.90) scale(0.9264,1)" font-size="19.28" font-family="Liberation Sans, sans-serif" fill="#000">1</text>
<rect x="695" y="158.85" width="40" height="14.6" fill="#00d4ff"/>
<text transform="translate(750.40,172.75) scale(1.0526,1)" font-size="19.00" font-family="Liberation Sans, sans-serif" fill="#000">2</text>
<rect x="695" y="187.70" width="40" height="14.6" fill="#7dff7a"/>
<text transform="translate(750.40,201.41) scale(1.0677,1)" font-size="18.73" font-family="Liberation Sans, sans-serif" fill="#000">3</text>
<rect x="695" y="216.55" width="40" height="14.6" fill="#ffe600"/>
<text transform="translate(750.40,230.45) scale(1.0376,1)" font-size="19.28" font-family="Liberation Sans, sans-serif" fill="#000">4</text>
<rect x="695" y="245.40" width="40" height="14.6" fill="#ff4a00"/>
<text transform="translate(750.40,259.11) scale(1.0526,1)" font-size="19.00" font-family="Liberation Sans, sans-serif" fill="#000">5</text>
<rect x="695" y="274.25" width="40" height="14.6" fill="#800000"/>
<text transform="translate(750.40,287.96) scale(1.0677,1)" font-size="18.73" font-family="Liberation Sans, sans-serif" fill="#000">6</text>
</g>
</svg>
</body></html>
